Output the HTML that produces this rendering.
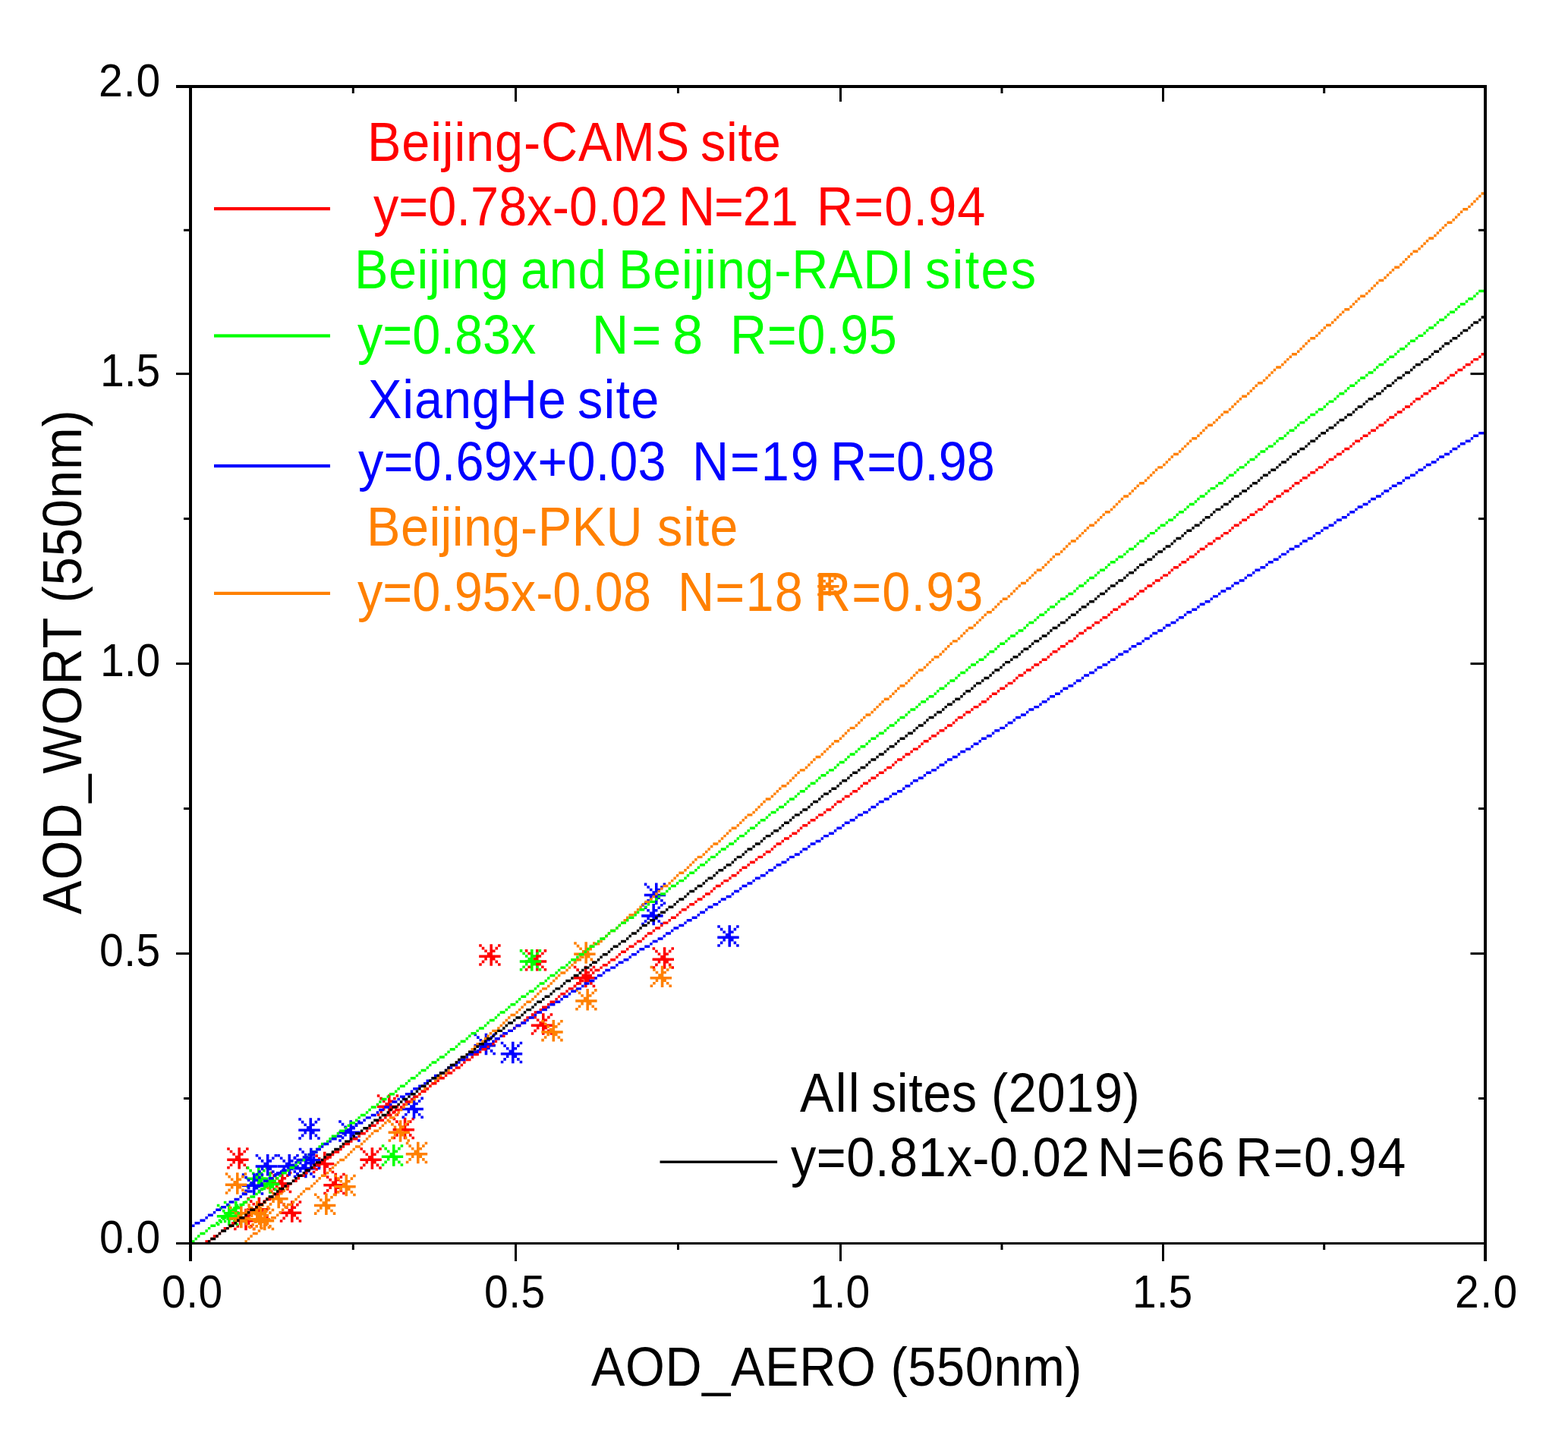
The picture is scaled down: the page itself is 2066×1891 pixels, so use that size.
<!DOCTYPE html><html><head><meta charset="utf-8"><title>AOD scatter</title>
<style>html,body{margin:0;padding:0;background:#fff;overflow:hidden}svg{display:block}text{font-family:"Liberation Sans", Arial, Helvetica, sans-serif;}</style></head><body>
<svg width="2066" height="1891" viewBox="0 0 2066 1891">
<rect width="2066" height="1891" fill="#fff"/>
<defs><clipPath id="pa"><rect x="251" y="114" width="1706" height="1524.5"/></clipPath></defs>
<defs><path id="ast" d="M14.20 0h3.55v28.40h-3.55zM0 14.20h28.40v3.55h-28.40zM0.00 0.00h3.55v3.55h-3.55zM24.85 0.00h3.55v3.55h-3.55zM3.55 3.55h3.55v3.55h-3.55zM21.30 3.55h3.55v3.55h-3.55zM7.10 7.10h3.55v3.55h-3.55zM17.75 7.10h3.55v3.55h-3.55zM10.65 10.65h3.55v3.55h-3.55zM17.75 17.75h3.55v3.55h-3.55zM7.10 17.75h3.55v3.55h-3.55zM21.30 21.30h3.55v3.55h-3.55zM3.55 21.30h3.55v3.55h-3.55zM24.85 24.85h3.55v3.55h-3.55zM0.00 24.85h3.55v3.55h-3.55z"/></defs>
<g>
<use href="#ast" x="631.2" y="1244.3" fill="#ff0000"/>
<use href="#ast" x="691.8" y="1251.1" fill="#ff0000"/>
<use href="#ast" x="755.8" y="1272.8" fill="#ff0000"/>
<use href="#ast" x="859.6" y="1248.3" fill="#ff0000"/>
<use href="#ast" x="699.8" y="1335.3" fill="#ff0000"/>
<use href="#ast" x="496.8" y="1442.3" fill="#ff0000"/>
<use href="#ast" x="517.6" y="1472.8" fill="#ff0000"/>
<use href="#ast" x="474.4" y="1512.3" fill="#ff0000"/>
<use href="#ast" x="426.3" y="1545.8" fill="#ff0000"/>
<use href="#ast" x="411.8" y="1517.8" fill="#ff0000"/>
<use href="#ast" x="299.2" y="1512.2" fill="#ff0000"/>
<use href="#ast" x="368.8" y="1582.3" fill="#ff0000"/>
<use href="#ast" x="355.8" y="1543.8" fill="#ff0000"/>
<use href="#ast" x="308.0" y="1592.8" fill="#ff0000"/>
<use href="#ast" x="325.4" y="1577.8" fill="#ff0000"/>
<use href="#ast" x="684.8" y="1251.1" fill="#00ff00"/>
<use href="#ast" x="502.8" y="1508.3" fill="#00ff00"/>
<use href="#ast" x="324.8" y="1537.3" fill="#00ff00"/>
<use href="#ast" x="339.8" y="1544.4" fill="#00ff00"/>
<use href="#ast" x="294.8" y="1582.8" fill="#00ff00"/>
<use href="#ast" x="285.8" y="1586.8" fill="#00ff00"/>
<use href="#ast" x="848.8" y="1163.6" fill="#0000ff"/>
<use href="#ast" x="845.2" y="1190.9" fill="#0000ff"/>
<use href="#ast" x="945.3" y="1219.3" fill="#0000ff"/>
<use href="#ast" x="659.8" y="1372.8" fill="#0000ff"/>
<use href="#ast" x="624.5" y="1361.8" fill="#0000ff"/>
<use href="#ast" x="529.5" y="1445.6" fill="#0000ff"/>
<use href="#ast" x="446.2" y="1476.3" fill="#0000ff"/>
<use href="#ast" x="393.3" y="1473.3" fill="#0000ff"/>
<use href="#ast" x="393.8" y="1512.8" fill="#0000ff"/>
<use href="#ast" x="336.7" y="1521.0" fill="#0000ff"/>
<use href="#ast" x="365.3" y="1521.0" fill="#0000ff"/>
<use href="#ast" x="318.8" y="1546.3" fill="#0000ff"/>
<use href="#ast" x="386.8" y="1523.8" fill="#0000ff"/>
<use href="#ast" x="756.2" y="1241.3" fill="#ff8000"/>
<use href="#ast" x="758.2" y="1303.1" fill="#ff8000"/>
<use href="#ast" x="856.6" y="1272.7" fill="#ff8000"/>
<use href="#ast" x="713.3" y="1344.0" fill="#ff8000"/>
<use href="#ast" x="511.6" y="1476.3" fill="#ff8000"/>
<use href="#ast" x="534.8" y="1504.8" fill="#ff8000"/>
<use href="#ast" x="440.3" y="1547.8" fill="#ff8000"/>
<use href="#ast" x="413.9" y="1572.5" fill="#ff8000"/>
<use href="#ast" x="296.8" y="1545.3" fill="#ff8000"/>
<use href="#ast" x="351.2" y="1563.8" fill="#ff8000"/>
<use href="#ast" x="327.8" y="1590.8" fill="#ff8000"/>
<use href="#ast" x="301.8" y="1589.8" fill="#ff8000"/>
<use href="#ast" x="1077.2" y="756.8" fill="#ff8000"/>
<use href="#ast" x="322.8" y="1582.8" fill="#ff8000"/>
<use href="#ast" x="332.8" y="1592.8" fill="#ff8000"/>
</g>
<g clip-path="url(#pa)">
<path d="M318.91 1637.70h3.47v3.47h-3.47zM322.38 1634.23h3.47v3.47h-3.47zM325.84 1630.76h3.47v3.47h-3.47zM329.31 1627.29h3.47v3.47h-3.47zM332.77 1623.82h6.93v3.47h-6.93zM339.71 1620.35h3.47v3.47h-3.47zM343.17 1616.88h3.47v3.47h-3.47zM346.64 1613.41h3.47v3.47h-3.47zM350.11 1609.94h3.47v3.47h-3.47zM353.57 1606.47h3.47v3.47h-3.47zM357.04 1603.00h6.93v3.47h-6.93zM363.97 1599.53h3.47v3.47h-3.47zM367.44 1596.06h3.47v3.47h-3.47zM370.90 1592.59h3.47v3.47h-3.47zM374.37 1589.12h3.47v3.47h-3.47zM377.84 1585.65h6.93v3.47h-6.93zM384.77 1582.18h3.47v3.47h-3.47zM388.24 1578.71h3.47v3.47h-3.47zM391.70 1575.24h3.47v3.47h-3.47zM395.17 1571.77h3.47v3.47h-3.47zM398.64 1568.30h3.47v3.47h-3.47zM402.10 1564.83h6.93v3.47h-6.93zM409.04 1561.37h3.47v3.47h-3.47zM412.50 1557.90h3.47v3.47h-3.47zM415.97 1554.43h3.47v3.47h-3.47zM419.43 1550.96h3.47v3.47h-3.47zM422.90 1547.49h6.93v3.47h-6.93zM429.83 1544.02h3.47v3.47h-3.47zM433.30 1540.55h3.47v3.47h-3.47zM436.77 1537.08h3.47v3.47h-3.47zM440.23 1533.61h3.47v3.47h-3.47zM443.70 1530.14h3.47v3.47h-3.47zM447.17 1526.67h6.93v3.47h-6.93zM454.10 1523.20h3.47v3.47h-3.47zM457.56 1519.73h3.47v3.47h-3.47zM461.03 1516.26h3.47v3.47h-3.47zM464.50 1512.79h3.47v3.47h-3.47zM467.96 1509.32h6.93v3.47h-6.93zM474.90 1505.85h3.47v3.47h-3.47zM478.36 1502.38h3.47v3.47h-3.47zM481.83 1498.91h3.47v3.47h-3.47zM485.30 1495.44h3.47v3.47h-3.47zM488.76 1491.97h3.47v3.47h-3.47zM492.23 1488.50h6.93v3.47h-6.93zM499.16 1485.03h3.47v3.47h-3.47zM502.63 1481.56h3.47v3.47h-3.47zM506.09 1478.09h3.47v3.47h-3.47zM509.56 1474.62h3.47v3.47h-3.47zM513.03 1471.15h6.93v3.47h-6.93zM519.96 1467.68h3.47v3.47h-3.47zM523.43 1464.21h3.47v3.47h-3.47zM526.89 1460.74h3.47v3.47h-3.47zM530.36 1457.27h3.47v3.47h-3.47zM533.83 1453.80h3.47v3.47h-3.47zM537.29 1450.33h6.93v3.47h-6.93zM544.22 1446.86h3.47v3.47h-3.47zM547.69 1443.40h3.47v3.47h-3.47zM551.16 1439.93h3.47v3.47h-3.47zM554.62 1436.46h3.47v3.47h-3.47zM558.09 1432.99h6.93v3.47h-6.93zM565.02 1429.52h3.47v3.47h-3.47zM568.49 1426.05h3.47v3.47h-3.47zM571.96 1422.58h3.47v3.47h-3.47zM575.42 1419.11h3.47v3.47h-3.47zM578.89 1415.64h3.47v3.47h-3.47zM582.36 1412.17h6.93v3.47h-6.93zM589.29 1408.70h3.47v3.47h-3.47zM592.75 1405.23h3.47v3.47h-3.47zM596.22 1401.76h3.47v3.47h-3.47zM599.69 1398.29h3.47v3.47h-3.47zM603.15 1394.82h6.93v3.47h-6.93zM610.09 1391.35h3.47v3.47h-3.47zM613.55 1387.88h3.47v3.47h-3.47zM617.02 1384.41h3.47v3.47h-3.47zM620.49 1380.94h3.47v3.47h-3.47zM623.95 1377.47h3.47v3.47h-3.47zM627.42 1374.00h6.93v3.47h-6.93zM634.35 1370.53h3.47v3.47h-3.47zM637.82 1367.06h3.47v3.47h-3.47zM641.28 1363.59h3.47v3.47h-3.47zM644.75 1360.12h3.47v3.47h-3.47zM648.22 1356.65h6.93v3.47h-6.93zM655.15 1353.18h3.47v3.47h-3.47zM658.62 1349.71h3.47v3.47h-3.47zM662.08 1346.24h3.47v3.47h-3.47zM665.55 1342.77h3.47v3.47h-3.47zM669.02 1339.30h3.47v3.47h-3.47zM672.48 1335.83h6.93v3.47h-6.93zM679.41 1332.36h3.47v3.47h-3.47zM682.88 1328.90h3.47v3.47h-3.47zM686.35 1325.43h3.47v3.47h-3.47zM689.81 1321.96h3.47v3.47h-3.47zM693.28 1318.49h6.93v3.47h-6.93zM700.21 1315.02h3.47v3.47h-3.47zM703.68 1311.55h3.47v3.47h-3.47zM707.15 1308.08h3.47v3.47h-3.47zM710.61 1304.61h3.47v3.47h-3.47zM714.08 1301.14h6.93v3.47h-6.93zM721.01 1297.67h3.47v3.47h-3.47zM724.48 1294.20h3.47v3.47h-3.47zM727.94 1290.73h3.47v3.47h-3.47zM731.41 1287.26h3.47v3.47h-3.47zM734.88 1283.79h3.47v3.47h-3.47zM738.34 1280.32h6.93v3.47h-6.93zM745.28 1276.85h3.47v3.47h-3.47zM748.74 1273.38h3.47v3.47h-3.47zM752.21 1269.91h3.47v3.47h-3.47zM755.68 1266.44h3.47v3.47h-3.47zM759.14 1262.97h6.93v3.47h-6.93zM766.07 1259.50h3.47v3.47h-3.47zM769.54 1256.03h3.47v3.47h-3.47zM773.01 1252.56h3.47v3.47h-3.47zM776.47 1249.09h3.47v3.47h-3.47zM779.94 1245.62h3.47v3.47h-3.47zM783.41 1242.15h6.93v3.47h-6.93zM790.34 1238.68h3.47v3.47h-3.47zM793.81 1235.21h3.47v3.47h-3.47zM797.27 1231.74h3.47v3.47h-3.47zM800.74 1228.27h3.47v3.47h-3.47zM804.20 1224.80h6.93v3.47h-6.93zM811.14 1221.33h3.47v3.47h-3.47zM814.60 1217.86h3.47v3.47h-3.47zM818.07 1214.39h3.47v3.47h-3.47zM821.54 1210.93h3.47v3.47h-3.47zM825.00 1207.46h3.47v3.47h-3.47zM828.47 1203.99h6.93v3.47h-6.93zM835.40 1200.52h3.47v3.47h-3.47zM838.87 1197.05h3.47v3.47h-3.47zM842.34 1193.58h3.47v3.47h-3.47zM845.80 1190.11h3.47v3.47h-3.47zM849.27 1186.64h6.93v3.47h-6.93zM856.20 1183.17h3.47v3.47h-3.47zM859.67 1179.70h3.47v3.47h-3.47zM863.13 1176.23h3.47v3.47h-3.47zM866.60 1172.76h3.47v3.47h-3.47zM870.07 1169.29h3.47v3.47h-3.47zM873.53 1165.82h6.93v3.47h-6.93zM880.47 1162.35h3.47v3.47h-3.47zM883.93 1158.88h3.47v3.47h-3.47zM887.40 1155.41h3.47v3.47h-3.47zM890.86 1151.94h3.47v3.47h-3.47zM894.33 1148.47h6.93v3.47h-6.93zM901.26 1145.00h3.47v3.47h-3.47zM904.73 1141.53h3.47v3.47h-3.47zM908.20 1138.06h3.47v3.47h-3.47zM911.66 1134.59h3.47v3.47h-3.47zM915.13 1131.12h3.47v3.47h-3.47zM918.60 1127.65h6.93v3.47h-6.93zM925.53 1124.18h3.47v3.47h-3.47zM929.00 1120.71h3.47v3.47h-3.47zM932.46 1117.24h3.47v3.47h-3.47zM935.93 1113.77h3.47v3.47h-3.47zM939.39 1110.30h6.93v3.47h-6.93zM946.33 1106.83h3.47v3.47h-3.47zM949.79 1103.36h3.47v3.47h-3.47zM953.26 1099.89h3.47v3.47h-3.47zM956.73 1096.43h3.47v3.47h-3.47zM960.19 1092.96h3.47v3.47h-3.47zM963.66 1089.49h6.93v3.47h-6.93zM970.59 1086.02h3.47v3.47h-3.47zM974.06 1082.55h3.47v3.47h-3.47zM977.52 1079.08h3.47v3.47h-3.47zM980.99 1075.61h3.47v3.47h-3.47zM984.46 1072.14h6.93v3.47h-6.93zM991.39 1068.67h3.47v3.47h-3.47zM994.86 1065.20h3.47v3.47h-3.47zM998.32 1061.73h3.47v3.47h-3.47zM1001.79 1058.26h3.47v3.47h-3.47zM1005.26 1054.79h3.47v3.47h-3.47zM1008.72 1051.32h6.93v3.47h-6.93zM1015.66 1047.85h3.47v3.47h-3.47zM1019.12 1044.38h3.47v3.47h-3.47zM1022.59 1040.91h3.47v3.47h-3.47zM1026.05 1037.44h3.47v3.47h-3.47zM1029.52 1033.97h6.93v3.47h-6.93zM1036.45 1030.50h3.47v3.47h-3.47zM1039.92 1027.03h3.47v3.47h-3.47zM1043.39 1023.56h3.47v3.47h-3.47zM1046.85 1020.09h3.47v3.47h-3.47zM1050.32 1016.62h3.47v3.47h-3.47zM1053.79 1013.15h6.93v3.47h-6.93zM1060.72 1009.68h3.47v3.47h-3.47zM1064.18 1006.21h3.47v3.47h-3.47zM1067.65 1002.74h3.47v3.47h-3.47zM1071.12 999.27h3.47v3.47h-3.47zM1074.58 995.80h6.93v3.47h-6.93zM1081.52 992.33h3.47v3.47h-3.47zM1084.98 988.86h3.47v3.47h-3.47zM1088.45 985.39h3.47v3.47h-3.47zM1091.92 981.93h3.47v3.47h-3.47zM1095.38 978.46h3.47v3.47h-3.47zM1098.85 974.99h6.93v3.47h-6.93zM1105.78 971.52h3.47v3.47h-3.47zM1109.25 968.05h3.47v3.47h-3.47zM1112.71 964.58h3.47v3.47h-3.47zM1116.18 961.11h3.47v3.47h-3.47zM1119.65 957.64h6.93v3.47h-6.93zM1126.58 954.17h3.47v3.47h-3.47zM1130.05 950.70h3.47v3.47h-3.47zM1133.51 947.23h3.47v3.47h-3.47zM1136.98 943.76h3.47v3.47h-3.47zM1140.45 940.29h6.93v3.47h-6.93zM1147.38 936.82h3.47v3.47h-3.47zM1150.84 933.35h3.47v3.47h-3.47zM1154.31 929.88h3.47v3.47h-3.47zM1157.78 926.41h3.47v3.47h-3.47zM1161.24 922.94h3.47v3.47h-3.47zM1164.71 919.47h6.93v3.47h-6.93zM1171.64 916.00h3.47v3.47h-3.47zM1175.11 912.53h3.47v3.47h-3.47zM1178.58 909.06h3.47v3.47h-3.47zM1182.04 905.59h3.47v3.47h-3.47zM1185.51 902.12h6.93v3.47h-6.93zM1192.44 898.65h3.47v3.47h-3.47zM1195.91 895.18h3.47v3.47h-3.47zM1199.37 891.71h3.47v3.47h-3.47zM1202.84 888.24h3.47v3.47h-3.47zM1206.31 884.77h3.47v3.47h-3.47zM1209.77 881.30h6.93v3.47h-6.93zM1216.71 877.83h3.47v3.47h-3.47zM1220.17 874.36h3.47v3.47h-3.47zM1223.64 870.89h3.47v3.47h-3.47zM1227.11 867.42h3.47v3.47h-3.47zM1230.57 863.96h6.93v3.47h-6.93zM1237.50 860.49h3.47v3.47h-3.47zM1240.97 857.02h3.47v3.47h-3.47zM1244.44 853.55h3.47v3.47h-3.47zM1247.90 850.08h3.47v3.47h-3.47zM1251.37 846.61h3.47v3.47h-3.47zM1254.84 843.14h6.93v3.47h-6.93zM1261.77 839.67h3.47v3.47h-3.47zM1265.24 836.20h3.47v3.47h-3.47zM1268.70 832.73h3.47v3.47h-3.47zM1272.17 829.26h3.47v3.47h-3.47zM1275.64 825.79h6.93v3.47h-6.93zM1282.57 822.32h3.47v3.47h-3.47zM1286.03 818.85h3.47v3.47h-3.47zM1289.50 815.38h3.47v3.47h-3.47zM1292.97 811.91h3.47v3.47h-3.47zM1296.43 808.44h3.47v3.47h-3.47zM1299.90 804.97h6.93v3.47h-6.93zM1306.83 801.50h3.47v3.47h-3.47zM1310.30 798.03h3.47v3.47h-3.47zM1313.77 794.56h3.47v3.47h-3.47zM1317.23 791.09h3.47v3.47h-3.47zM1320.70 787.62h6.93v3.47h-6.93zM1327.63 784.15h3.47v3.47h-3.47zM1331.10 780.68h3.47v3.47h-3.47zM1334.56 777.21h3.47v3.47h-3.47zM1338.03 773.74h3.47v3.47h-3.47zM1341.50 770.27h3.47v3.47h-3.47zM1344.96 766.80h6.93v3.47h-6.93zM1351.90 763.33h3.47v3.47h-3.47zM1355.36 759.86h3.47v3.47h-3.47zM1358.83 756.39h3.47v3.47h-3.47zM1362.30 752.92h3.47v3.47h-3.47zM1365.76 749.46h6.93v3.47h-6.93zM1372.69 745.99h3.47v3.47h-3.47zM1376.16 742.52h3.47v3.47h-3.47zM1379.63 739.05h3.47v3.47h-3.47zM1383.09 735.58h3.47v3.47h-3.47zM1386.56 732.11h3.47v3.47h-3.47zM1390.03 728.64h6.93v3.47h-6.93zM1396.96 725.17h3.47v3.47h-3.47zM1400.43 721.70h3.47v3.47h-3.47zM1403.89 718.23h3.47v3.47h-3.47zM1407.36 714.76h3.47v3.47h-3.47zM1410.82 711.29h6.93v3.47h-6.93zM1417.76 707.82h3.47v3.47h-3.47zM1421.22 704.35h3.47v3.47h-3.47zM1424.69 700.88h3.47v3.47h-3.47zM1428.16 697.41h3.47v3.47h-3.47zM1431.62 693.94h3.47v3.47h-3.47zM1435.09 690.47h6.93v3.47h-6.93zM1442.02 687.00h3.47v3.47h-3.47zM1445.49 683.53h3.47v3.47h-3.47zM1448.96 680.06h3.47v3.47h-3.47zM1452.42 676.59h3.47v3.47h-3.47zM1455.89 673.12h6.93v3.47h-6.93zM1462.82 669.65h3.47v3.47h-3.47zM1466.29 666.18h3.47v3.47h-3.47zM1469.75 662.71h3.47v3.47h-3.47zM1473.22 659.24h3.47v3.47h-3.47zM1476.69 655.77h3.47v3.47h-3.47zM1480.15 652.30h6.93v3.47h-6.93zM1487.09 648.83h3.47v3.47h-3.47zM1490.55 645.36h3.47v3.47h-3.47zM1494.02 641.89h3.47v3.47h-3.47zM1497.48 638.42h3.47v3.47h-3.47zM1500.95 634.96h6.93v3.47h-6.93zM1507.88 631.49h3.47v3.47h-3.47zM1511.35 628.02h3.47v3.47h-3.47zM1514.82 624.55h3.47v3.47h-3.47zM1518.28 621.08h3.47v3.47h-3.47zM1521.75 617.61h3.47v3.47h-3.47zM1525.22 614.14h6.93v3.47h-6.93zM1532.15 610.67h3.47v3.47h-3.47zM1535.62 607.20h3.47v3.47h-3.47zM1539.08 603.73h3.47v3.47h-3.47zM1542.55 600.26h3.47v3.47h-3.47zM1546.01 596.79h6.93v3.47h-6.93zM1552.95 593.32h3.47v3.47h-3.47zM1556.41 589.85h3.47v3.47h-3.47zM1559.88 586.38h3.47v3.47h-3.47zM1563.35 582.91h3.47v3.47h-3.47zM1566.81 579.44h3.47v3.47h-3.47zM1570.28 575.97h6.93v3.47h-6.93zM1577.21 572.50h3.47v3.47h-3.47zM1580.68 569.03h3.47v3.47h-3.47zM1584.14 565.56h3.47v3.47h-3.47zM1587.61 562.09h3.47v3.47h-3.47zM1591.08 558.62h6.93v3.47h-6.93zM1598.01 555.15h3.47v3.47h-3.47zM1601.48 551.68h3.47v3.47h-3.47zM1604.94 548.21h3.47v3.47h-3.47zM1608.41 544.74h3.47v3.47h-3.47zM1611.88 541.27h6.93v3.47h-6.93zM1618.81 537.80h3.47v3.47h-3.47zM1622.28 534.33h3.47v3.47h-3.47zM1625.74 530.86h3.47v3.47h-3.47zM1629.21 527.39h3.47v3.47h-3.47zM1632.67 523.92h3.47v3.47h-3.47zM1636.14 520.46h6.93v3.47h-6.93zM1643.07 516.99h3.47v3.47h-3.47zM1646.54 513.52h3.47v3.47h-3.47zM1650.01 510.05h3.47v3.47h-3.47zM1653.47 506.58h3.47v3.47h-3.47zM1656.94 503.11h6.93v3.47h-6.93zM1663.87 499.64h3.47v3.47h-3.47zM1667.34 496.17h3.47v3.47h-3.47zM1670.80 492.70h3.47v3.47h-3.47zM1674.27 489.23h3.47v3.47h-3.47zM1677.74 485.76h3.47v3.47h-3.47zM1681.20 482.29h6.93v3.47h-6.93zM1688.14 478.82h3.47v3.47h-3.47zM1691.60 475.35h3.47v3.47h-3.47zM1695.07 471.88h3.47v3.47h-3.47zM1698.54 468.41h3.47v3.47h-3.47zM1702.00 464.94h6.93v3.47h-6.93zM1708.94 461.47h3.47v3.47h-3.47zM1712.40 458.00h3.47v3.47h-3.47zM1715.87 454.53h3.47v3.47h-3.47zM1719.33 451.06h3.47v3.47h-3.47zM1722.80 447.59h3.47v3.47h-3.47zM1726.27 444.12h6.93v3.47h-6.93zM1733.20 440.65h3.47v3.47h-3.47zM1736.67 437.18h3.47v3.47h-3.47zM1740.13 433.71h3.47v3.47h-3.47zM1743.60 430.24h3.47v3.47h-3.47zM1747.07 426.77h6.93v3.47h-6.93zM1754.00 423.30h3.47v3.47h-3.47zM1757.46 419.83h3.47v3.47h-3.47zM1760.93 416.36h3.47v3.47h-3.47zM1764.40 412.89h3.47v3.47h-3.47zM1767.86 409.42h3.47v3.47h-3.47zM1771.33 405.95h6.93v3.47h-6.93zM1778.26 402.49h3.47v3.47h-3.47zM1781.73 399.02h3.47v3.47h-3.47zM1785.20 395.55h3.47v3.47h-3.47zM1788.66 392.08h3.47v3.47h-3.47zM1792.13 388.61h6.93v3.47h-6.93zM1799.06 385.14h3.47v3.47h-3.47zM1802.53 381.67h3.47v3.47h-3.47zM1805.99 378.20h3.47v3.47h-3.47zM1809.46 374.73h3.47v3.47h-3.47zM1812.93 371.26h3.47v3.47h-3.47zM1816.39 367.79h6.93v3.47h-6.93zM1823.33 364.32h3.47v3.47h-3.47zM1826.79 360.85h3.47v3.47h-3.47zM1830.26 357.38h3.47v3.47h-3.47zM1833.73 353.91h3.47v3.47h-3.47zM1837.19 350.44h6.93v3.47h-6.93zM1844.12 346.97h3.47v3.47h-3.47zM1847.59 343.50h3.47v3.47h-3.47zM1851.06 340.03h3.47v3.47h-3.47zM1854.52 336.56h3.47v3.47h-3.47zM1857.99 333.09h3.47v3.47h-3.47zM1861.46 329.62h6.93v3.47h-6.93zM1868.39 326.15h3.47v3.47h-3.47zM1871.86 322.68h3.47v3.47h-3.47zM1875.32 319.21h3.47v3.47h-3.47zM1878.79 315.74h3.47v3.47h-3.47zM1882.26 312.27h6.93v3.47h-6.93zM1889.19 308.80h3.47v3.47h-3.47zM1892.65 305.33h3.47v3.47h-3.47zM1896.12 301.86h3.47v3.47h-3.47zM1899.59 298.39h3.47v3.47h-3.47zM1903.05 294.92h3.47v3.47h-3.47zM1906.52 291.45h6.93v3.47h-6.93zM1913.45 287.99h3.47v3.47h-3.47zM1916.92 284.52h3.47v3.47h-3.47zM1920.39 281.05h3.47v3.47h-3.47zM1923.85 277.58h3.47v3.47h-3.47zM1927.32 274.11h6.93v3.47h-6.93zM1934.25 270.64h3.47v3.47h-3.47zM1937.72 267.17h3.47v3.47h-3.47zM1941.18 263.70h3.47v3.47h-3.47zM1944.65 260.23h3.47v3.47h-3.47zM1948.12 256.76h3.47v3.47h-3.47zM1951.58 253.29h6.93v3.47h-6.93zM1958.52 249.82h3.47v3.47h-3.47z" fill="#ff8000"/>
<path d="M249.58 1634.23h6.93v3.47h-6.93zM256.51 1630.76h3.47v3.47h-3.47zM259.98 1627.29h3.47v3.47h-3.47zM263.45 1623.82h6.93v3.47h-6.93zM270.38 1620.35h3.47v3.47h-3.47zM273.85 1616.88h3.47v3.47h-3.47zM277.31 1613.41h6.93v3.47h-6.93zM284.24 1609.94h3.47v3.47h-3.47zM287.71 1606.47h3.47v3.47h-3.47zM291.18 1603.00h6.93v3.47h-6.93zM298.11 1599.53h3.47v3.47h-3.47zM301.58 1596.06h3.47v3.47h-3.47zM305.04 1592.59h6.93v3.47h-6.93zM311.98 1589.12h3.47v3.47h-3.47zM315.44 1585.65h6.93v3.47h-6.93zM322.38 1582.18h3.47v3.47h-3.47zM325.84 1578.71h3.47v3.47h-3.47zM329.31 1575.24h6.93v3.47h-6.93zM336.24 1571.77h3.47v3.47h-3.47zM339.71 1568.30h3.47v3.47h-3.47zM343.17 1564.83h6.93v3.47h-6.93zM350.11 1561.37h3.47v3.47h-3.47zM353.57 1557.90h3.47v3.47h-3.47zM357.04 1554.43h6.93v3.47h-6.93zM363.97 1550.96h3.47v3.47h-3.47zM367.44 1547.49h3.47v3.47h-3.47zM370.90 1544.02h6.93v3.47h-6.93zM377.84 1540.55h3.47v3.47h-3.47zM381.30 1537.08h6.93v3.47h-6.93zM388.24 1533.61h3.47v3.47h-3.47zM391.70 1530.14h3.47v3.47h-3.47zM395.17 1526.67h6.93v3.47h-6.93zM402.10 1523.20h3.47v3.47h-3.47zM405.57 1519.73h3.47v3.47h-3.47zM409.04 1516.26h6.93v3.47h-6.93zM415.97 1512.79h3.47v3.47h-3.47zM419.43 1509.32h3.47v3.47h-3.47zM422.90 1505.85h6.93v3.47h-6.93zM429.83 1502.38h3.47v3.47h-3.47zM433.30 1498.91h3.47v3.47h-3.47zM436.77 1495.44h6.93v3.47h-6.93zM443.70 1491.97h3.47v3.47h-3.47zM447.17 1488.50h6.93v3.47h-6.93zM454.10 1485.03h3.47v3.47h-3.47zM457.56 1481.56h3.47v3.47h-3.47zM461.03 1478.09h6.93v3.47h-6.93zM467.96 1474.62h3.47v3.47h-3.47zM471.43 1471.15h3.47v3.47h-3.47zM474.90 1467.68h6.93v3.47h-6.93zM481.83 1464.21h3.47v3.47h-3.47zM485.30 1460.74h3.47v3.47h-3.47zM488.76 1457.27h6.93v3.47h-6.93zM495.70 1453.80h3.47v3.47h-3.47zM499.16 1450.33h3.47v3.47h-3.47zM502.63 1446.86h6.93v3.47h-6.93zM509.56 1443.40h3.47v3.47h-3.47zM513.03 1439.93h6.93v3.47h-6.93zM519.96 1436.46h3.47v3.47h-3.47zM523.43 1432.99h3.47v3.47h-3.47zM526.89 1429.52h6.93v3.47h-6.93zM533.83 1426.05h3.47v3.47h-3.47zM537.29 1422.58h3.47v3.47h-3.47zM540.76 1419.11h6.93v3.47h-6.93zM547.69 1415.64h3.47v3.47h-3.47zM551.16 1412.17h3.47v3.47h-3.47zM554.62 1408.70h6.93v3.47h-6.93zM561.56 1405.23h3.47v3.47h-3.47zM565.02 1401.76h3.47v3.47h-3.47zM568.49 1398.29h6.93v3.47h-6.93zM575.42 1394.82h3.47v3.47h-3.47zM578.89 1391.35h6.93v3.47h-6.93zM585.82 1387.88h3.47v3.47h-3.47zM589.29 1384.41h3.47v3.47h-3.47zM592.75 1380.94h6.93v3.47h-6.93zM599.69 1377.47h3.47v3.47h-3.47zM603.15 1374.00h3.47v3.47h-3.47zM606.62 1370.53h6.93v3.47h-6.93zM613.55 1367.06h3.47v3.47h-3.47zM617.02 1363.59h3.47v3.47h-3.47zM620.49 1360.12h6.93v3.47h-6.93zM627.42 1356.65h3.47v3.47h-3.47zM630.88 1353.18h6.93v3.47h-6.93zM637.82 1349.71h3.47v3.47h-3.47zM641.28 1346.24h3.47v3.47h-3.47zM644.75 1342.77h6.93v3.47h-6.93zM651.68 1339.30h3.47v3.47h-3.47zM655.15 1335.83h3.47v3.47h-3.47zM658.62 1332.36h6.93v3.47h-6.93zM665.55 1328.90h3.47v3.47h-3.47zM669.02 1325.43h3.47v3.47h-3.47zM672.48 1321.96h6.93v3.47h-6.93zM679.41 1318.49h3.47v3.47h-3.47zM682.88 1315.02h3.47v3.47h-3.47zM686.35 1311.55h6.93v3.47h-6.93zM693.28 1308.08h3.47v3.47h-3.47zM696.75 1304.61h6.93v3.47h-6.93zM703.68 1301.14h3.47v3.47h-3.47zM707.15 1297.67h3.47v3.47h-3.47zM710.61 1294.20h6.93v3.47h-6.93zM717.54 1290.73h3.47v3.47h-3.47zM721.01 1287.26h3.47v3.47h-3.47zM724.48 1283.79h6.93v3.47h-6.93zM731.41 1280.32h3.47v3.47h-3.47zM734.88 1276.85h3.47v3.47h-3.47zM738.34 1273.38h6.93v3.47h-6.93zM745.28 1269.91h3.47v3.47h-3.47zM748.74 1266.44h3.47v3.47h-3.47zM752.21 1262.97h6.93v3.47h-6.93zM759.14 1259.50h3.47v3.47h-3.47zM762.61 1256.03h6.93v3.47h-6.93zM769.54 1252.56h3.47v3.47h-3.47zM773.01 1249.09h3.47v3.47h-3.47zM776.47 1245.62h6.93v3.47h-6.93zM783.41 1242.15h3.47v3.47h-3.47zM786.87 1238.68h3.47v3.47h-3.47zM790.34 1235.21h6.93v3.47h-6.93zM797.27 1231.74h3.47v3.47h-3.47zM800.74 1228.27h3.47v3.47h-3.47zM804.20 1224.80h6.93v3.47h-6.93zM811.14 1221.33h3.47v3.47h-3.47zM814.60 1217.86h3.47v3.47h-3.47zM818.07 1214.39h6.93v3.47h-6.93zM825.00 1210.93h3.47v3.47h-3.47zM828.47 1207.46h6.93v3.47h-6.93zM835.40 1203.99h3.47v3.47h-3.47zM838.87 1200.52h3.47v3.47h-3.47zM842.34 1197.05h6.93v3.47h-6.93zM849.27 1193.58h3.47v3.47h-3.47zM852.73 1190.11h3.47v3.47h-3.47zM856.20 1186.64h6.93v3.47h-6.93zM863.13 1183.17h3.47v3.47h-3.47zM866.60 1179.70h3.47v3.47h-3.47zM870.07 1176.23h6.93v3.47h-6.93zM877.00 1172.76h3.47v3.47h-3.47zM880.47 1169.29h3.47v3.47h-3.47zM883.93 1165.82h6.93v3.47h-6.93zM890.86 1162.35h3.47v3.47h-3.47zM894.33 1158.88h6.93v3.47h-6.93zM901.26 1155.41h3.47v3.47h-3.47zM904.73 1151.94h3.47v3.47h-3.47zM908.20 1148.47h6.93v3.47h-6.93zM915.13 1145.00h3.47v3.47h-3.47zM918.60 1141.53h3.47v3.47h-3.47zM922.06 1138.06h6.93v3.47h-6.93zM929.00 1134.59h3.47v3.47h-3.47zM932.46 1131.12h3.47v3.47h-3.47zM935.93 1127.65h6.93v3.47h-6.93zM942.86 1124.18h3.47v3.47h-3.47zM946.33 1120.71h3.47v3.47h-3.47zM949.79 1117.24h6.93v3.47h-6.93zM956.73 1113.77h3.47v3.47h-3.47zM960.19 1110.30h6.93v3.47h-6.93zM967.13 1106.83h3.47v3.47h-3.47zM970.59 1103.36h3.47v3.47h-3.47zM974.06 1099.89h6.93v3.47h-6.93zM980.99 1096.43h3.47v3.47h-3.47zM984.46 1092.96h3.47v3.47h-3.47zM987.92 1089.49h6.93v3.47h-6.93zM994.86 1086.02h3.47v3.47h-3.47zM998.32 1082.55h3.47v3.47h-3.47zM1001.79 1079.08h6.93v3.47h-6.93zM1008.72 1075.61h3.47v3.47h-3.47zM1012.19 1072.14h3.47v3.47h-3.47zM1015.66 1068.67h6.93v3.47h-6.93zM1022.59 1065.20h3.47v3.47h-3.47zM1026.05 1061.73h6.93v3.47h-6.93zM1032.99 1058.26h3.47v3.47h-3.47zM1036.45 1054.79h3.47v3.47h-3.47zM1039.92 1051.32h6.93v3.47h-6.93zM1046.85 1047.85h3.47v3.47h-3.47zM1050.32 1044.38h3.47v3.47h-3.47zM1053.79 1040.91h6.93v3.47h-6.93zM1060.72 1037.44h3.47v3.47h-3.47zM1064.18 1033.97h3.47v3.47h-3.47zM1067.65 1030.50h6.93v3.47h-6.93zM1074.58 1027.03h3.47v3.47h-3.47zM1078.05 1023.56h3.47v3.47h-3.47zM1081.52 1020.09h6.93v3.47h-6.93zM1088.45 1016.62h3.47v3.47h-3.47zM1091.92 1013.15h6.93v3.47h-6.93zM1098.85 1009.68h3.47v3.47h-3.47zM1102.32 1006.21h3.47v3.47h-3.47zM1105.78 1002.74h6.93v3.47h-6.93zM1112.71 999.27h3.47v3.47h-3.47zM1116.18 995.80h3.47v3.47h-3.47zM1119.65 992.33h6.93v3.47h-6.93zM1126.58 988.86h3.47v3.47h-3.47zM1130.05 985.39h3.47v3.47h-3.47zM1133.51 981.93h6.93v3.47h-6.93zM1140.45 978.46h3.47v3.47h-3.47zM1143.91 974.99h3.47v3.47h-3.47zM1147.38 971.52h6.93v3.47h-6.93zM1154.31 968.05h3.47v3.47h-3.47zM1157.78 964.58h6.93v3.47h-6.93zM1164.71 961.11h3.47v3.47h-3.47zM1168.18 957.64h3.47v3.47h-3.47zM1171.64 954.17h6.93v3.47h-6.93zM1178.58 950.70h3.47v3.47h-3.47zM1182.04 947.23h3.47v3.47h-3.47zM1185.51 943.76h6.93v3.47h-6.93zM1192.44 940.29h3.47v3.47h-3.47zM1195.91 936.82h3.47v3.47h-3.47zM1199.37 933.35h6.93v3.47h-6.93zM1206.31 929.88h3.47v3.47h-3.47zM1209.77 926.41h3.47v3.47h-3.47zM1213.24 922.94h6.93v3.47h-6.93zM1220.17 919.47h3.47v3.47h-3.47zM1223.64 916.00h6.93v3.47h-6.93zM1230.57 912.53h3.47v3.47h-3.47zM1234.04 909.06h3.47v3.47h-3.47zM1237.50 905.59h6.93v3.47h-6.93zM1244.44 902.12h3.47v3.47h-3.47zM1247.90 898.65h3.47v3.47h-3.47zM1251.37 895.18h6.93v3.47h-6.93zM1258.30 891.71h3.47v3.47h-3.47zM1261.77 888.24h3.47v3.47h-3.47zM1265.24 884.77h6.93v3.47h-6.93zM1272.17 881.30h3.47v3.47h-3.47zM1275.64 877.83h3.47v3.47h-3.47zM1279.10 874.36h6.93v3.47h-6.93zM1286.03 870.89h3.47v3.47h-3.47zM1289.50 867.42h6.93v3.47h-6.93zM1296.43 863.96h3.47v3.47h-3.47zM1299.90 860.49h3.47v3.47h-3.47zM1303.37 857.02h6.93v3.47h-6.93zM1310.30 853.55h3.47v3.47h-3.47zM1313.77 850.08h3.47v3.47h-3.47zM1317.23 846.61h6.93v3.47h-6.93zM1324.16 843.14h3.47v3.47h-3.47zM1327.63 839.67h3.47v3.47h-3.47zM1331.10 836.20h6.93v3.47h-6.93zM1338.03 832.73h3.47v3.47h-3.47zM1341.50 829.26h6.93v3.47h-6.93zM1348.43 825.79h3.47v3.47h-3.47zM1351.90 822.32h3.47v3.47h-3.47zM1355.36 818.85h6.93v3.47h-6.93zM1362.30 815.38h3.47v3.47h-3.47zM1365.76 811.91h3.47v3.47h-3.47zM1369.23 808.44h6.93v3.47h-6.93zM1376.16 804.97h3.47v3.47h-3.47zM1379.63 801.50h3.47v3.47h-3.47zM1383.09 798.03h6.93v3.47h-6.93zM1390.03 794.56h3.47v3.47h-3.47zM1393.49 791.09h3.47v3.47h-3.47zM1396.96 787.62h6.93v3.47h-6.93zM1403.89 784.15h3.47v3.47h-3.47zM1407.36 780.68h6.93v3.47h-6.93zM1414.29 777.21h3.47v3.47h-3.47zM1417.76 773.74h3.47v3.47h-3.47zM1421.22 770.27h6.93v3.47h-6.93zM1428.16 766.80h3.47v3.47h-3.47zM1431.62 763.33h3.47v3.47h-3.47zM1435.09 759.86h6.93v3.47h-6.93zM1442.02 756.39h3.47v3.47h-3.47zM1445.49 752.92h3.47v3.47h-3.47zM1448.96 749.46h6.93v3.47h-6.93zM1455.89 745.99h3.47v3.47h-3.47zM1459.35 742.52h3.47v3.47h-3.47zM1462.82 739.05h6.93v3.47h-6.93zM1469.75 735.58h3.47v3.47h-3.47zM1473.22 732.11h6.93v3.47h-6.93zM1480.15 728.64h3.47v3.47h-3.47zM1483.62 725.17h3.47v3.47h-3.47zM1487.09 721.70h6.93v3.47h-6.93zM1494.02 718.23h3.47v3.47h-3.47zM1497.48 714.76h3.47v3.47h-3.47zM1500.95 711.29h6.93v3.47h-6.93zM1507.88 707.82h3.47v3.47h-3.47zM1511.35 704.35h3.47v3.47h-3.47zM1514.82 700.88h6.93v3.47h-6.93zM1521.75 697.41h3.47v3.47h-3.47zM1525.22 693.94h3.47v3.47h-3.47zM1528.68 690.47h6.93v3.47h-6.93zM1535.62 687.00h3.47v3.47h-3.47zM1539.08 683.53h6.93v3.47h-6.93zM1546.01 680.06h3.47v3.47h-3.47zM1549.48 676.59h3.47v3.47h-3.47zM1552.95 673.12h6.93v3.47h-6.93zM1559.88 669.65h3.47v3.47h-3.47zM1563.35 666.18h3.47v3.47h-3.47zM1566.81 662.71h6.93v3.47h-6.93zM1573.75 659.24h3.47v3.47h-3.47zM1577.21 655.77h3.47v3.47h-3.47zM1580.68 652.30h6.93v3.47h-6.93zM1587.61 648.83h3.47v3.47h-3.47zM1591.08 645.36h3.47v3.47h-3.47zM1594.54 641.89h6.93v3.47h-6.93zM1601.48 638.42h3.47v3.47h-3.47zM1604.94 634.96h6.93v3.47h-6.93zM1611.88 631.49h3.47v3.47h-3.47zM1615.34 628.02h3.47v3.47h-3.47zM1618.81 624.55h6.93v3.47h-6.93zM1625.74 621.08h3.47v3.47h-3.47zM1629.21 617.61h3.47v3.47h-3.47zM1632.67 614.14h6.93v3.47h-6.93zM1639.61 610.67h3.47v3.47h-3.47zM1643.07 607.20h3.47v3.47h-3.47zM1646.54 603.73h6.93v3.47h-6.93zM1653.47 600.26h3.47v3.47h-3.47zM1656.94 596.79h3.47v3.47h-3.47zM1660.41 593.32h6.93v3.47h-6.93zM1667.34 589.85h3.47v3.47h-3.47zM1670.80 586.38h6.93v3.47h-6.93zM1677.74 582.91h3.47v3.47h-3.47zM1681.20 579.44h3.47v3.47h-3.47zM1684.67 575.97h6.93v3.47h-6.93zM1691.60 572.50h3.47v3.47h-3.47zM1695.07 569.03h3.47v3.47h-3.47zM1698.54 565.56h6.93v3.47h-6.93zM1705.47 562.09h3.47v3.47h-3.47zM1708.94 558.62h3.47v3.47h-3.47zM1712.40 555.15h6.93v3.47h-6.93zM1719.33 551.68h3.47v3.47h-3.47zM1722.80 548.21h3.47v3.47h-3.47zM1726.27 544.74h6.93v3.47h-6.93zM1733.20 541.27h3.47v3.47h-3.47zM1736.67 537.80h6.93v3.47h-6.93zM1743.60 534.33h3.47v3.47h-3.47zM1747.07 530.86h3.47v3.47h-3.47zM1750.53 527.39h6.93v3.47h-6.93zM1757.46 523.92h3.47v3.47h-3.47zM1760.93 520.46h3.47v3.47h-3.47zM1764.40 516.99h6.93v3.47h-6.93zM1771.33 513.52h3.47v3.47h-3.47zM1774.80 510.05h3.47v3.47h-3.47zM1778.26 506.58h6.93v3.47h-6.93zM1785.20 503.11h3.47v3.47h-3.47zM1788.66 499.64h3.47v3.47h-3.47zM1792.13 496.17h6.93v3.47h-6.93zM1799.06 492.70h3.47v3.47h-3.47zM1802.53 489.23h6.93v3.47h-6.93zM1809.46 485.76h3.47v3.47h-3.47zM1812.93 482.29h3.47v3.47h-3.47zM1816.39 478.82h6.93v3.47h-6.93zM1823.33 475.35h3.47v3.47h-3.47zM1826.79 471.88h3.47v3.47h-3.47zM1830.26 468.41h6.93v3.47h-6.93zM1837.19 464.94h3.47v3.47h-3.47zM1840.66 461.47h3.47v3.47h-3.47zM1844.12 458.00h6.93v3.47h-6.93zM1851.06 454.53h3.47v3.47h-3.47zM1854.52 451.06h3.47v3.47h-3.47zM1857.99 447.59h6.93v3.47h-6.93zM1864.92 444.12h3.47v3.47h-3.47zM1868.39 440.65h6.93v3.47h-6.93zM1875.32 437.18h3.47v3.47h-3.47zM1878.79 433.71h3.47v3.47h-3.47zM1882.26 430.24h6.93v3.47h-6.93zM1889.19 426.77h3.47v3.47h-3.47zM1892.65 423.30h3.47v3.47h-3.47zM1896.12 419.83h6.93v3.47h-6.93zM1903.05 416.36h3.47v3.47h-3.47zM1906.52 412.89h3.47v3.47h-3.47zM1909.99 409.42h6.93v3.47h-6.93zM1916.92 405.95h3.47v3.47h-3.47zM1920.39 402.49h3.47v3.47h-3.47zM1923.85 399.02h6.93v3.47h-6.93zM1930.78 395.55h3.47v3.47h-3.47zM1934.25 392.08h6.93v3.47h-6.93zM1941.18 388.61h3.47v3.47h-3.47zM1944.65 385.14h3.47v3.47h-3.47zM1948.12 381.67h6.93v3.47h-6.93zM1955.05 378.20h3.47v3.47h-3.47zM1958.52 374.73h3.47v3.47h-3.47z" fill="#00ff00"/>
<path d="M266.91 1637.70h3.47v3.47h-3.47zM270.38 1634.23h6.93v3.47h-6.93zM277.31 1630.76h3.47v3.47h-3.47zM280.78 1627.29h6.93v3.47h-6.93zM287.71 1623.82h3.47v3.47h-3.47zM291.18 1620.35h3.47v3.47h-3.47zM294.64 1616.88h6.93v3.47h-6.93zM301.58 1613.41h3.47v3.47h-3.47zM305.04 1609.94h6.93v3.47h-6.93zM311.98 1606.47h3.47v3.47h-3.47zM315.44 1603.00h6.93v3.47h-6.93zM322.38 1599.53h3.47v3.47h-3.47zM325.84 1596.06h3.47v3.47h-3.47zM329.31 1592.59h6.93v3.47h-6.93zM336.24 1589.12h3.47v3.47h-3.47zM339.71 1585.65h6.93v3.47h-6.93zM346.64 1582.18h3.47v3.47h-3.47zM350.11 1578.71h6.93v3.47h-6.93zM357.04 1575.24h3.47v3.47h-3.47zM360.51 1571.77h6.93v3.47h-6.93zM367.44 1568.30h3.47v3.47h-3.47zM370.90 1564.83h3.47v3.47h-3.47zM374.37 1561.37h6.93v3.47h-6.93zM381.30 1557.90h3.47v3.47h-3.47zM384.77 1554.43h6.93v3.47h-6.93zM391.70 1550.96h3.47v3.47h-3.47zM395.17 1547.49h6.93v3.47h-6.93zM402.10 1544.02h3.47v3.47h-3.47zM405.57 1540.55h3.47v3.47h-3.47zM409.04 1537.08h6.93v3.47h-6.93zM415.97 1533.61h3.47v3.47h-3.47zM419.43 1530.14h6.93v3.47h-6.93zM426.37 1526.67h3.47v3.47h-3.47zM429.83 1523.20h6.93v3.47h-6.93zM436.77 1519.73h3.47v3.47h-3.47zM440.23 1516.26h6.93v3.47h-6.93zM447.17 1512.79h3.47v3.47h-3.47zM450.63 1509.32h3.47v3.47h-3.47zM454.10 1505.85h6.93v3.47h-6.93zM461.03 1502.38h3.47v3.47h-3.47zM464.50 1498.91h6.93v3.47h-6.93zM471.43 1495.44h3.47v3.47h-3.47zM474.90 1491.97h6.93v3.47h-6.93zM481.83 1488.50h3.47v3.47h-3.47zM485.30 1485.03h3.47v3.47h-3.47zM488.76 1481.56h6.93v3.47h-6.93zM495.70 1478.09h3.47v3.47h-3.47zM499.16 1474.62h6.93v3.47h-6.93zM506.09 1471.15h3.47v3.47h-3.47zM509.56 1467.68h6.93v3.47h-6.93zM516.49 1464.21h3.47v3.47h-3.47zM519.96 1460.74h6.93v3.47h-6.93zM526.89 1457.27h3.47v3.47h-3.47zM530.36 1453.80h3.47v3.47h-3.47zM533.83 1450.33h6.93v3.47h-6.93zM540.76 1446.86h3.47v3.47h-3.47zM544.22 1443.40h6.93v3.47h-6.93zM551.16 1439.93h3.47v3.47h-3.47zM554.62 1436.46h6.93v3.47h-6.93zM561.56 1432.99h3.47v3.47h-3.47zM565.02 1429.52h3.47v3.47h-3.47zM568.49 1426.05h6.93v3.47h-6.93zM575.42 1422.58h3.47v3.47h-3.47zM578.89 1419.11h6.93v3.47h-6.93zM585.82 1415.64h3.47v3.47h-3.47zM589.29 1412.17h6.93v3.47h-6.93zM596.22 1408.70h3.47v3.47h-3.47zM599.69 1405.23h6.93v3.47h-6.93zM606.62 1401.76h3.47v3.47h-3.47zM610.09 1398.29h3.47v3.47h-3.47zM613.55 1394.82h6.93v3.47h-6.93zM620.49 1391.35h3.47v3.47h-3.47zM623.95 1387.88h6.93v3.47h-6.93zM630.88 1384.41h3.47v3.47h-3.47zM634.35 1380.94h6.93v3.47h-6.93zM641.28 1377.47h3.47v3.47h-3.47zM644.75 1374.00h6.93v3.47h-6.93zM651.68 1370.53h3.47v3.47h-3.47zM655.15 1367.06h3.47v3.47h-3.47zM658.62 1363.59h6.93v3.47h-6.93zM665.55 1360.12h3.47v3.47h-3.47zM669.02 1356.65h6.93v3.47h-6.93zM675.95 1353.18h3.47v3.47h-3.47zM679.41 1349.71h6.93v3.47h-6.93zM686.35 1346.24h3.47v3.47h-3.47zM689.81 1342.77h3.47v3.47h-3.47zM693.28 1339.30h6.93v3.47h-6.93zM700.21 1335.83h3.47v3.47h-3.47zM703.68 1332.36h6.93v3.47h-6.93zM710.61 1328.90h3.47v3.47h-3.47zM714.08 1325.43h6.93v3.47h-6.93zM721.01 1321.96h3.47v3.47h-3.47zM724.48 1318.49h6.93v3.47h-6.93zM731.41 1315.02h3.47v3.47h-3.47zM734.88 1311.55h3.47v3.47h-3.47zM738.34 1308.08h6.93v3.47h-6.93zM745.28 1304.61h3.47v3.47h-3.47zM748.74 1301.14h6.93v3.47h-6.93zM755.68 1297.67h3.47v3.47h-3.47zM759.14 1294.20h6.93v3.47h-6.93zM766.07 1290.73h3.47v3.47h-3.47zM769.54 1287.26h3.47v3.47h-3.47zM773.01 1283.79h6.93v3.47h-6.93zM779.94 1280.32h3.47v3.47h-3.47zM783.41 1276.85h6.93v3.47h-6.93zM790.34 1273.38h3.47v3.47h-3.47zM793.81 1269.91h6.93v3.47h-6.93zM800.74 1266.44h3.47v3.47h-3.47zM804.20 1262.97h6.93v3.47h-6.93zM811.14 1259.50h3.47v3.47h-3.47zM814.60 1256.03h3.47v3.47h-3.47zM818.07 1252.56h6.93v3.47h-6.93zM825.00 1249.09h3.47v3.47h-3.47zM828.47 1245.62h6.93v3.47h-6.93zM835.40 1242.15h3.47v3.47h-3.47zM838.87 1238.68h6.93v3.47h-6.93zM845.80 1235.21h3.47v3.47h-3.47zM849.27 1231.74h3.47v3.47h-3.47zM852.73 1228.27h6.93v3.47h-6.93zM859.67 1224.80h3.47v3.47h-3.47zM863.13 1221.33h6.93v3.47h-6.93zM870.07 1217.86h3.47v3.47h-3.47zM873.53 1214.39h6.93v3.47h-6.93zM880.47 1210.93h3.47v3.47h-3.47zM883.93 1207.46h6.93v3.47h-6.93zM890.86 1203.99h3.47v3.47h-3.47zM894.33 1200.52h3.47v3.47h-3.47zM897.80 1197.05h6.93v3.47h-6.93zM904.73 1193.58h3.47v3.47h-3.47zM908.20 1190.11h6.93v3.47h-6.93zM915.13 1186.64h3.47v3.47h-3.47zM918.60 1183.17h6.93v3.47h-6.93zM925.53 1179.70h3.47v3.47h-3.47zM929.00 1176.23h6.93v3.47h-6.93zM935.93 1172.76h3.47v3.47h-3.47zM939.39 1169.29h3.47v3.47h-3.47zM942.86 1165.82h6.93v3.47h-6.93zM949.79 1162.35h3.47v3.47h-3.47zM953.26 1158.88h6.93v3.47h-6.93zM960.19 1155.41h3.47v3.47h-3.47zM963.66 1151.94h6.93v3.47h-6.93zM970.59 1148.47h3.47v3.47h-3.47zM974.06 1145.00h3.47v3.47h-3.47zM977.52 1141.53h6.93v3.47h-6.93zM984.46 1138.06h3.47v3.47h-3.47zM987.92 1134.59h6.93v3.47h-6.93zM994.86 1131.12h3.47v3.47h-3.47zM998.32 1127.65h6.93v3.47h-6.93zM1005.26 1124.18h3.47v3.47h-3.47zM1008.72 1120.71h6.93v3.47h-6.93zM1015.66 1117.24h3.47v3.47h-3.47zM1019.12 1113.77h3.47v3.47h-3.47zM1022.59 1110.30h6.93v3.47h-6.93zM1029.52 1106.83h3.47v3.47h-3.47zM1032.99 1103.36h6.93v3.47h-6.93zM1039.92 1099.89h3.47v3.47h-3.47zM1043.39 1096.43h6.93v3.47h-6.93zM1050.32 1092.96h3.47v3.47h-3.47zM1053.79 1089.49h3.47v3.47h-3.47zM1057.25 1086.02h6.93v3.47h-6.93zM1064.18 1082.55h3.47v3.47h-3.47zM1067.65 1079.08h6.93v3.47h-6.93zM1074.58 1075.61h3.47v3.47h-3.47zM1078.05 1072.14h6.93v3.47h-6.93zM1084.98 1068.67h3.47v3.47h-3.47zM1088.45 1065.20h6.93v3.47h-6.93zM1095.38 1061.73h3.47v3.47h-3.47zM1098.85 1058.26h3.47v3.47h-3.47zM1102.32 1054.79h6.93v3.47h-6.93zM1109.25 1051.32h3.47v3.47h-3.47zM1112.71 1047.85h6.93v3.47h-6.93zM1119.65 1044.38h3.47v3.47h-3.47zM1123.11 1040.91h6.93v3.47h-6.93zM1130.05 1037.44h3.47v3.47h-3.47zM1133.51 1033.97h3.47v3.47h-3.47zM1136.98 1030.50h6.93v3.47h-6.93zM1143.91 1027.03h3.47v3.47h-3.47zM1147.38 1023.56h6.93v3.47h-6.93zM1154.31 1020.09h3.47v3.47h-3.47zM1157.78 1016.62h6.93v3.47h-6.93zM1164.71 1013.15h3.47v3.47h-3.47zM1168.18 1009.68h6.93v3.47h-6.93zM1175.11 1006.21h3.47v3.47h-3.47zM1178.58 1002.74h3.47v3.47h-3.47zM1182.04 999.27h6.93v3.47h-6.93zM1188.98 995.80h3.47v3.47h-3.47zM1192.44 992.33h6.93v3.47h-6.93zM1199.37 988.86h3.47v3.47h-3.47zM1202.84 985.39h6.93v3.47h-6.93zM1209.77 981.93h3.47v3.47h-3.47zM1213.24 978.46h3.47v3.47h-3.47zM1216.71 974.99h6.93v3.47h-6.93zM1223.64 971.52h3.47v3.47h-3.47zM1227.11 968.05h6.93v3.47h-6.93zM1234.04 964.58h3.47v3.47h-3.47zM1237.50 961.11h6.93v3.47h-6.93zM1244.44 957.64h3.47v3.47h-3.47zM1247.90 954.17h6.93v3.47h-6.93zM1254.84 950.70h3.47v3.47h-3.47zM1258.30 947.23h3.47v3.47h-3.47zM1261.77 943.76h6.93v3.47h-6.93zM1268.70 940.29h3.47v3.47h-3.47zM1272.17 936.82h6.93v3.47h-6.93zM1279.10 933.35h3.47v3.47h-3.47zM1282.57 929.88h6.93v3.47h-6.93zM1289.50 926.41h3.47v3.47h-3.47zM1292.97 922.94h6.93v3.47h-6.93zM1299.90 919.47h3.47v3.47h-3.47zM1303.37 916.00h3.47v3.47h-3.47zM1306.83 912.53h6.93v3.47h-6.93zM1313.77 909.06h3.47v3.47h-3.47zM1317.23 905.59h6.93v3.47h-6.93zM1324.16 902.12h3.47v3.47h-3.47zM1327.63 898.65h6.93v3.47h-6.93zM1334.56 895.18h3.47v3.47h-3.47zM1338.03 891.71h3.47v3.47h-3.47zM1341.50 888.24h6.93v3.47h-6.93zM1348.43 884.77h3.47v3.47h-3.47zM1351.90 881.30h6.93v3.47h-6.93zM1358.83 877.83h3.47v3.47h-3.47zM1362.30 874.36h6.93v3.47h-6.93zM1369.23 870.89h3.47v3.47h-3.47zM1372.69 867.42h6.93v3.47h-6.93zM1379.63 863.96h3.47v3.47h-3.47zM1383.09 860.49h3.47v3.47h-3.47zM1386.56 857.02h6.93v3.47h-6.93zM1393.49 853.55h3.47v3.47h-3.47zM1396.96 850.08h6.93v3.47h-6.93zM1403.89 846.61h3.47v3.47h-3.47zM1407.36 843.14h6.93v3.47h-6.93zM1414.29 839.67h3.47v3.47h-3.47zM1417.76 836.20h3.47v3.47h-3.47zM1421.22 832.73h6.93v3.47h-6.93zM1428.16 829.26h3.47v3.47h-3.47zM1431.62 825.79h6.93v3.47h-6.93zM1438.56 822.32h3.47v3.47h-3.47zM1442.02 818.85h6.93v3.47h-6.93zM1448.96 815.38h3.47v3.47h-3.47zM1452.42 811.91h6.93v3.47h-6.93zM1459.35 808.44h3.47v3.47h-3.47zM1462.82 804.97h3.47v3.47h-3.47zM1466.29 801.50h6.93v3.47h-6.93zM1473.22 798.03h3.47v3.47h-3.47zM1476.69 794.56h6.93v3.47h-6.93zM1483.62 791.09h3.47v3.47h-3.47zM1487.09 787.62h6.93v3.47h-6.93zM1494.02 784.15h3.47v3.47h-3.47zM1497.48 780.68h3.47v3.47h-3.47zM1500.95 777.21h6.93v3.47h-6.93zM1507.88 773.74h3.47v3.47h-3.47zM1511.35 770.27h6.93v3.47h-6.93zM1518.28 766.80h3.47v3.47h-3.47zM1521.75 763.33h6.93v3.47h-6.93zM1528.68 759.86h3.47v3.47h-3.47zM1532.15 756.39h6.93v3.47h-6.93zM1539.08 752.92h3.47v3.47h-3.47zM1542.55 749.46h3.47v3.47h-3.47zM1546.01 745.99h6.93v3.47h-6.93zM1552.95 742.52h3.47v3.47h-3.47zM1556.41 739.05h6.93v3.47h-6.93zM1563.35 735.58h3.47v3.47h-3.47zM1566.81 732.11h6.93v3.47h-6.93zM1573.75 728.64h3.47v3.47h-3.47zM1577.21 725.17h3.47v3.47h-3.47zM1580.68 721.70h6.93v3.47h-6.93zM1587.61 718.23h3.47v3.47h-3.47zM1591.08 714.76h6.93v3.47h-6.93zM1598.01 711.29h3.47v3.47h-3.47zM1601.48 707.82h6.93v3.47h-6.93zM1608.41 704.35h3.47v3.47h-3.47zM1611.88 700.88h6.93v3.47h-6.93zM1618.81 697.41h3.47v3.47h-3.47zM1622.28 693.94h3.47v3.47h-3.47zM1625.74 690.47h6.93v3.47h-6.93zM1632.67 687.00h3.47v3.47h-3.47zM1636.14 683.53h6.93v3.47h-6.93zM1643.07 680.06h3.47v3.47h-3.47zM1646.54 676.59h6.93v3.47h-6.93zM1653.47 673.12h3.47v3.47h-3.47zM1656.94 669.65h6.93v3.47h-6.93zM1663.87 666.18h3.47v3.47h-3.47zM1667.34 662.71h3.47v3.47h-3.47zM1670.80 659.24h6.93v3.47h-6.93zM1677.74 655.77h3.47v3.47h-3.47zM1681.20 652.30h6.93v3.47h-6.93zM1688.14 648.83h3.47v3.47h-3.47zM1691.60 645.36h6.93v3.47h-6.93zM1698.54 641.89h3.47v3.47h-3.47zM1702.00 638.42h3.47v3.47h-3.47zM1705.47 634.96h6.93v3.47h-6.93zM1712.40 631.49h3.47v3.47h-3.47zM1715.87 628.02h6.93v3.47h-6.93zM1722.80 624.55h3.47v3.47h-3.47zM1726.27 621.08h6.93v3.47h-6.93zM1733.20 617.61h3.47v3.47h-3.47zM1736.67 614.14h6.93v3.47h-6.93zM1743.60 610.67h3.47v3.47h-3.47zM1747.07 607.20h3.47v3.47h-3.47zM1750.53 603.73h6.93v3.47h-6.93zM1757.46 600.26h3.47v3.47h-3.47zM1760.93 596.79h6.93v3.47h-6.93zM1767.86 593.32h3.47v3.47h-3.47zM1771.33 589.85h6.93v3.47h-6.93zM1778.26 586.38h3.47v3.47h-3.47zM1781.73 582.91h3.47v3.47h-3.47zM1785.20 579.44h6.93v3.47h-6.93zM1792.13 575.97h3.47v3.47h-3.47zM1795.60 572.50h6.93v3.47h-6.93zM1802.53 569.03h3.47v3.47h-3.47zM1805.99 565.56h6.93v3.47h-6.93zM1812.93 562.09h3.47v3.47h-3.47zM1816.39 558.62h6.93v3.47h-6.93zM1823.33 555.15h3.47v3.47h-3.47zM1826.79 551.68h3.47v3.47h-3.47zM1830.26 548.21h6.93v3.47h-6.93zM1837.19 544.74h3.47v3.47h-3.47zM1840.66 541.27h6.93v3.47h-6.93zM1847.59 537.80h3.47v3.47h-3.47zM1851.06 534.33h6.93v3.47h-6.93zM1857.99 530.86h3.47v3.47h-3.47zM1861.46 527.39h3.47v3.47h-3.47zM1864.92 523.92h6.93v3.47h-6.93zM1871.86 520.46h3.47v3.47h-3.47zM1875.32 516.99h6.93v3.47h-6.93zM1882.26 513.52h3.47v3.47h-3.47zM1885.72 510.05h6.93v3.47h-6.93zM1892.65 506.58h3.47v3.47h-3.47zM1896.12 503.11h6.93v3.47h-6.93zM1903.05 499.64h3.47v3.47h-3.47zM1906.52 496.17h3.47v3.47h-3.47zM1909.99 492.70h6.93v3.47h-6.93zM1916.92 489.23h3.47v3.47h-3.47zM1920.39 485.76h6.93v3.47h-6.93zM1927.32 482.29h3.47v3.47h-3.47zM1930.78 478.82h6.93v3.47h-6.93zM1937.72 475.35h3.47v3.47h-3.47zM1941.18 471.88h6.93v3.47h-6.93zM1948.12 468.41h3.47v3.47h-3.47zM1951.58 464.94h3.47v3.47h-3.47zM1955.05 461.47h6.93v3.47h-6.93z" fill="#ff0000"/>
<path d="M249.58 1616.88h3.47v3.47h-3.47zM253.05 1613.41h3.47v3.47h-3.47zM256.51 1609.94h6.93v3.47h-6.93zM263.45 1606.47h6.93v3.47h-6.93zM270.38 1603.00h3.47v3.47h-3.47zM273.85 1599.53h6.93v3.47h-6.93zM280.78 1596.06h3.47v3.47h-3.47zM284.24 1592.59h6.93v3.47h-6.93zM291.18 1589.12h6.93v3.47h-6.93zM298.11 1585.65h3.47v3.47h-3.47zM301.58 1582.18h6.93v3.47h-6.93zM308.51 1578.71h6.93v3.47h-6.93zM315.44 1575.24h3.47v3.47h-3.47zM318.91 1571.77h6.93v3.47h-6.93zM325.84 1568.30h6.93v3.47h-6.93zM332.77 1564.83h3.47v3.47h-3.47zM336.24 1561.37h6.93v3.47h-6.93zM343.17 1557.90h3.47v3.47h-3.47zM346.64 1554.43h6.93v3.47h-6.93zM353.57 1550.96h6.93v3.47h-6.93zM360.51 1547.49h3.47v3.47h-3.47zM363.97 1544.02h6.93v3.47h-6.93zM370.90 1540.55h6.93v3.47h-6.93zM377.84 1537.08h3.47v3.47h-3.47zM381.30 1533.61h6.93v3.47h-6.93zM388.24 1530.14h3.47v3.47h-3.47zM391.70 1526.67h6.93v3.47h-6.93zM398.64 1523.20h6.93v3.47h-6.93zM405.57 1519.73h3.47v3.47h-3.47zM409.04 1516.26h6.93v3.47h-6.93zM415.97 1512.79h6.93v3.47h-6.93zM422.90 1509.32h3.47v3.47h-3.47zM426.37 1505.85h6.93v3.47h-6.93zM433.30 1502.38h3.47v3.47h-3.47zM436.77 1498.91h6.93v3.47h-6.93zM443.70 1495.44h6.93v3.47h-6.93zM450.63 1491.97h3.47v3.47h-3.47zM454.10 1488.50h6.93v3.47h-6.93zM461.03 1485.03h6.93v3.47h-6.93zM467.96 1481.56h3.47v3.47h-3.47zM471.43 1478.09h6.93v3.47h-6.93zM478.36 1474.62h3.47v3.47h-3.47zM481.83 1471.15h6.93v3.47h-6.93zM488.76 1467.68h6.93v3.47h-6.93zM495.70 1464.21h3.47v3.47h-3.47zM499.16 1460.74h6.93v3.47h-6.93zM506.09 1457.27h6.93v3.47h-6.93zM513.03 1453.80h3.47v3.47h-3.47zM516.49 1450.33h6.93v3.47h-6.93zM523.43 1446.86h3.47v3.47h-3.47zM526.89 1443.40h6.93v3.47h-6.93zM533.83 1439.93h6.93v3.47h-6.93zM540.76 1436.46h3.47v3.47h-3.47zM544.22 1432.99h6.93v3.47h-6.93zM551.16 1429.52h6.93v3.47h-6.93zM558.09 1426.05h3.47v3.47h-3.47zM561.56 1422.58h6.93v3.47h-6.93zM568.49 1419.11h3.47v3.47h-3.47zM571.96 1415.64h6.93v3.47h-6.93zM578.89 1412.17h6.93v3.47h-6.93zM585.82 1408.70h3.47v3.47h-3.47zM589.29 1405.23h6.93v3.47h-6.93zM596.22 1401.76h6.93v3.47h-6.93zM603.15 1398.29h3.47v3.47h-3.47zM606.62 1394.82h6.93v3.47h-6.93zM613.55 1391.35h3.47v3.47h-3.47zM617.02 1387.88h6.93v3.47h-6.93zM623.95 1384.41h6.93v3.47h-6.93zM630.88 1380.94h3.47v3.47h-3.47zM634.35 1377.47h6.93v3.47h-6.93zM641.28 1374.00h6.93v3.47h-6.93zM648.22 1370.53h3.47v3.47h-3.47zM651.68 1367.06h6.93v3.47h-6.93zM658.62 1363.59h3.47v3.47h-3.47zM662.08 1360.12h6.93v3.47h-6.93zM669.02 1356.65h6.93v3.47h-6.93zM675.95 1353.18h3.47v3.47h-3.47zM679.41 1349.71h6.93v3.47h-6.93zM686.35 1346.24h6.93v3.47h-6.93zM693.28 1342.77h3.47v3.47h-3.47zM696.75 1339.30h6.93v3.47h-6.93zM703.68 1335.83h3.47v3.47h-3.47zM707.15 1332.36h6.93v3.47h-6.93zM714.08 1328.90h6.93v3.47h-6.93zM721.01 1325.43h3.47v3.47h-3.47zM724.48 1321.96h6.93v3.47h-6.93zM731.41 1318.49h6.93v3.47h-6.93zM738.34 1315.02h3.47v3.47h-3.47zM741.81 1311.55h6.93v3.47h-6.93zM748.74 1308.08h3.47v3.47h-3.47zM752.21 1304.61h6.93v3.47h-6.93zM759.14 1301.14h6.93v3.47h-6.93zM766.07 1297.67h3.47v3.47h-3.47zM769.54 1294.20h6.93v3.47h-6.93zM776.47 1290.73h6.93v3.47h-6.93zM783.41 1287.26h3.47v3.47h-3.47zM786.87 1283.79h6.93v3.47h-6.93zM793.81 1280.32h3.47v3.47h-3.47zM797.27 1276.85h6.93v3.47h-6.93zM804.20 1273.38h6.93v3.47h-6.93zM811.14 1269.91h3.47v3.47h-3.47zM814.60 1266.44h6.93v3.47h-6.93zM821.54 1262.97h6.93v3.47h-6.93zM828.47 1259.50h3.47v3.47h-3.47zM831.94 1256.03h6.93v3.47h-6.93zM838.87 1252.56h3.47v3.47h-3.47zM842.34 1249.09h6.93v3.47h-6.93zM849.27 1245.62h6.93v3.47h-6.93zM856.20 1242.15h3.47v3.47h-3.47zM859.67 1238.68h6.93v3.47h-6.93zM866.60 1235.21h6.93v3.47h-6.93zM873.53 1231.74h3.47v3.47h-3.47zM877.00 1228.27h6.93v3.47h-6.93zM883.93 1224.80h3.47v3.47h-3.47zM887.40 1221.33h6.93v3.47h-6.93zM894.33 1217.86h6.93v3.47h-6.93zM901.26 1214.39h3.47v3.47h-3.47zM904.73 1210.93h6.93v3.47h-6.93zM911.66 1207.46h6.93v3.47h-6.93zM918.60 1203.99h3.47v3.47h-3.47zM922.06 1200.52h6.93v3.47h-6.93zM929.00 1197.05h3.47v3.47h-3.47zM932.46 1193.58h6.93v3.47h-6.93zM939.39 1190.11h6.93v3.47h-6.93zM946.33 1186.64h3.47v3.47h-3.47zM949.79 1183.17h6.93v3.47h-6.93zM956.73 1179.70h6.93v3.47h-6.93zM963.66 1176.23h3.47v3.47h-3.47zM967.13 1172.76h6.93v3.47h-6.93zM974.06 1169.29h3.47v3.47h-3.47zM977.52 1165.82h6.93v3.47h-6.93zM984.46 1162.35h6.93v3.47h-6.93zM991.39 1158.88h3.47v3.47h-3.47zM994.86 1155.41h6.93v3.47h-6.93zM1001.79 1151.94h6.93v3.47h-6.93zM1008.72 1148.47h3.47v3.47h-3.47zM1012.19 1145.00h6.93v3.47h-6.93zM1019.12 1141.53h3.47v3.47h-3.47zM1022.59 1138.06h6.93v3.47h-6.93zM1029.52 1134.59h6.93v3.47h-6.93zM1036.45 1131.12h3.47v3.47h-3.47zM1039.92 1127.65h6.93v3.47h-6.93zM1046.85 1124.18h6.93v3.47h-6.93zM1053.79 1120.71h3.47v3.47h-3.47zM1057.25 1117.24h6.93v3.47h-6.93zM1064.18 1113.77h3.47v3.47h-3.47zM1067.65 1110.30h6.93v3.47h-6.93zM1074.58 1106.83h6.93v3.47h-6.93zM1081.52 1103.36h3.47v3.47h-3.47zM1084.98 1099.89h6.93v3.47h-6.93zM1091.92 1096.43h6.93v3.47h-6.93zM1098.85 1092.96h3.47v3.47h-3.47zM1102.32 1089.49h6.93v3.47h-6.93zM1109.25 1086.02h3.47v3.47h-3.47zM1112.71 1082.55h6.93v3.47h-6.93zM1119.65 1079.08h6.93v3.47h-6.93zM1126.58 1075.61h3.47v3.47h-3.47zM1130.05 1072.14h6.93v3.47h-6.93zM1136.98 1068.67h6.93v3.47h-6.93zM1143.91 1065.20h3.47v3.47h-3.47zM1147.38 1061.73h6.93v3.47h-6.93zM1154.31 1058.26h3.47v3.47h-3.47zM1157.78 1054.79h6.93v3.47h-6.93zM1164.71 1051.32h6.93v3.47h-6.93zM1171.64 1047.85h3.47v3.47h-3.47zM1175.11 1044.38h6.93v3.47h-6.93zM1182.04 1040.91h6.93v3.47h-6.93zM1188.98 1037.44h3.47v3.47h-3.47zM1192.44 1033.97h6.93v3.47h-6.93zM1199.37 1030.50h3.47v3.47h-3.47zM1202.84 1027.03h6.93v3.47h-6.93zM1209.77 1023.56h6.93v3.47h-6.93zM1216.71 1020.09h3.47v3.47h-3.47zM1220.17 1016.62h6.93v3.47h-6.93zM1227.11 1013.15h6.93v3.47h-6.93zM1234.04 1009.68h3.47v3.47h-3.47zM1237.50 1006.21h6.93v3.47h-6.93zM1244.44 1002.74h3.47v3.47h-3.47zM1247.90 999.27h6.93v3.47h-6.93zM1254.84 995.80h6.93v3.47h-6.93zM1261.77 992.33h3.47v3.47h-3.47zM1265.24 988.86h6.93v3.47h-6.93zM1272.17 985.39h6.93v3.47h-6.93zM1279.10 981.93h3.47v3.47h-3.47zM1282.57 978.46h6.93v3.47h-6.93zM1289.50 974.99h3.47v3.47h-3.47zM1292.97 971.52h6.93v3.47h-6.93zM1299.90 968.05h6.93v3.47h-6.93zM1306.83 964.58h3.47v3.47h-3.47zM1310.30 961.11h6.93v3.47h-6.93zM1317.23 957.64h6.93v3.47h-6.93zM1324.16 954.17h3.47v3.47h-3.47zM1327.63 950.70h6.93v3.47h-6.93zM1334.56 947.23h3.47v3.47h-3.47zM1338.03 943.76h6.93v3.47h-6.93zM1344.96 940.29h6.93v3.47h-6.93zM1351.90 936.82h3.47v3.47h-3.47zM1355.36 933.35h6.93v3.47h-6.93zM1362.30 929.88h6.93v3.47h-6.93zM1369.23 926.41h3.47v3.47h-3.47zM1372.69 922.94h6.93v3.47h-6.93zM1379.63 919.47h3.47v3.47h-3.47zM1383.09 916.00h6.93v3.47h-6.93zM1390.03 912.53h6.93v3.47h-6.93zM1396.96 909.06h3.47v3.47h-3.47zM1400.43 905.59h6.93v3.47h-6.93zM1407.36 902.12h6.93v3.47h-6.93zM1414.29 898.65h3.47v3.47h-3.47zM1417.76 895.18h6.93v3.47h-6.93zM1424.69 891.71h3.47v3.47h-3.47zM1428.16 888.24h6.93v3.47h-6.93zM1435.09 884.77h6.93v3.47h-6.93zM1442.02 881.30h3.47v3.47h-3.47zM1445.49 877.83h6.93v3.47h-6.93zM1452.42 874.36h6.93v3.47h-6.93zM1459.35 870.89h3.47v3.47h-3.47zM1462.82 867.42h6.93v3.47h-6.93zM1469.75 863.96h3.47v3.47h-3.47zM1473.22 860.49h6.93v3.47h-6.93zM1480.15 857.02h6.93v3.47h-6.93zM1487.09 853.55h3.47v3.47h-3.47zM1490.55 850.08h6.93v3.47h-6.93zM1497.48 846.61h6.93v3.47h-6.93zM1504.42 843.14h3.47v3.47h-3.47zM1507.88 839.67h6.93v3.47h-6.93zM1514.82 836.20h3.47v3.47h-3.47zM1518.28 832.73h6.93v3.47h-6.93zM1525.22 829.26h6.93v3.47h-6.93zM1532.15 825.79h3.47v3.47h-3.47zM1535.62 822.32h6.93v3.47h-6.93zM1542.55 818.85h6.93v3.47h-6.93zM1549.48 815.38h3.47v3.47h-3.47zM1552.95 811.91h6.93v3.47h-6.93zM1559.88 808.44h3.47v3.47h-3.47zM1563.35 804.97h6.93v3.47h-6.93zM1570.28 801.50h6.93v3.47h-6.93zM1577.21 798.03h3.47v3.47h-3.47zM1580.68 794.56h6.93v3.47h-6.93zM1587.61 791.09h6.93v3.47h-6.93zM1594.54 787.62h3.47v3.47h-3.47zM1598.01 784.15h6.93v3.47h-6.93zM1604.94 780.68h3.47v3.47h-3.47zM1608.41 777.21h6.93v3.47h-6.93zM1615.34 773.74h6.93v3.47h-6.93zM1622.28 770.27h3.47v3.47h-3.47zM1625.74 766.80h6.93v3.47h-6.93zM1632.67 763.33h6.93v3.47h-6.93zM1639.61 759.86h3.47v3.47h-3.47zM1643.07 756.39h6.93v3.47h-6.93zM1650.01 752.92h3.47v3.47h-3.47zM1653.47 749.46h6.93v3.47h-6.93zM1660.41 745.99h6.93v3.47h-6.93zM1667.34 742.52h3.47v3.47h-3.47zM1670.80 739.05h6.93v3.47h-6.93zM1677.74 735.58h6.93v3.47h-6.93zM1684.67 732.11h3.47v3.47h-3.47zM1688.14 728.64h6.93v3.47h-6.93zM1695.07 725.17h3.47v3.47h-3.47zM1698.54 721.70h6.93v3.47h-6.93zM1705.47 718.23h6.93v3.47h-6.93zM1712.40 714.76h3.47v3.47h-3.47zM1715.87 711.29h6.93v3.47h-6.93zM1722.80 707.82h6.93v3.47h-6.93zM1729.73 704.35h3.47v3.47h-3.47zM1733.20 700.88h6.93v3.47h-6.93zM1740.13 697.41h3.47v3.47h-3.47zM1743.60 693.94h6.93v3.47h-6.93zM1750.53 690.47h6.93v3.47h-6.93zM1757.46 687.00h3.47v3.47h-3.47zM1760.93 683.53h6.93v3.47h-6.93zM1767.86 680.06h6.93v3.47h-6.93zM1774.80 676.59h3.47v3.47h-3.47zM1778.26 673.12h6.93v3.47h-6.93zM1785.20 669.65h3.47v3.47h-3.47zM1788.66 666.18h6.93v3.47h-6.93zM1795.60 662.71h6.93v3.47h-6.93zM1802.53 659.24h3.47v3.47h-3.47zM1805.99 655.77h6.93v3.47h-6.93zM1812.93 652.30h6.93v3.47h-6.93zM1819.86 648.83h3.47v3.47h-3.47zM1823.33 645.36h6.93v3.47h-6.93zM1830.26 641.89h3.47v3.47h-3.47zM1833.73 638.42h6.93v3.47h-6.93zM1840.66 634.96h6.93v3.47h-6.93zM1847.59 631.49h3.47v3.47h-3.47zM1851.06 628.02h6.93v3.47h-6.93zM1857.99 624.55h6.93v3.47h-6.93zM1864.92 621.08h3.47v3.47h-3.47zM1868.39 617.61h6.93v3.47h-6.93zM1875.32 614.14h3.47v3.47h-3.47zM1878.79 610.67h6.93v3.47h-6.93zM1885.72 607.20h6.93v3.47h-6.93zM1892.65 603.73h3.47v3.47h-3.47zM1896.12 600.26h6.93v3.47h-6.93zM1903.05 596.79h6.93v3.47h-6.93zM1909.99 593.32h3.47v3.47h-3.47zM1913.45 589.85h6.93v3.47h-6.93zM1920.39 586.38h3.47v3.47h-3.47zM1923.85 582.91h6.93v3.47h-6.93zM1930.78 579.44h6.93v3.47h-6.93zM1937.72 575.97h3.47v3.47h-3.47zM1941.18 572.50h6.93v3.47h-6.93zM1948.12 569.03h6.93v3.47h-6.93zM1955.05 565.56h3.47v3.47h-3.47zM1958.52 562.09h3.47v3.47h-3.47z" fill="#0000ff"/>
<path d="M270.38 1637.70h3.47v3.47h-3.47zM273.85 1634.23h3.47v3.47h-3.47zM277.31 1630.76h6.93v3.47h-6.93zM284.24 1627.29h3.47v3.47h-3.47zM287.71 1623.82h3.47v3.47h-3.47zM291.18 1620.35h6.93v3.47h-6.93zM298.11 1616.88h3.47v3.47h-3.47zM301.58 1613.41h6.93v3.47h-6.93zM308.51 1609.94h3.47v3.47h-3.47zM311.98 1606.47h3.47v3.47h-3.47zM315.44 1603.00h6.93v3.47h-6.93zM322.38 1599.53h3.47v3.47h-3.47zM325.84 1596.06h3.47v3.47h-3.47zM329.31 1592.59h6.93v3.47h-6.93zM336.24 1589.12h3.47v3.47h-3.47zM339.71 1585.65h6.93v3.47h-6.93zM346.64 1582.18h3.47v3.47h-3.47zM350.11 1578.71h3.47v3.47h-3.47zM353.57 1575.24h6.93v3.47h-6.93zM360.51 1571.77h3.47v3.47h-3.47zM363.97 1568.30h3.47v3.47h-3.47zM367.44 1564.83h6.93v3.47h-6.93zM374.37 1561.37h3.47v3.47h-3.47zM377.84 1557.90h6.93v3.47h-6.93zM384.77 1554.43h3.47v3.47h-3.47zM388.24 1550.96h3.47v3.47h-3.47zM391.70 1547.49h6.93v3.47h-6.93zM398.64 1544.02h3.47v3.47h-3.47zM402.10 1540.55h6.93v3.47h-6.93zM409.04 1537.08h3.47v3.47h-3.47zM412.50 1533.61h3.47v3.47h-3.47zM415.97 1530.14h6.93v3.47h-6.93zM422.90 1526.67h3.47v3.47h-3.47zM426.37 1523.20h3.47v3.47h-3.47zM429.83 1519.73h6.93v3.47h-6.93zM436.77 1516.26h3.47v3.47h-3.47zM440.23 1512.79h6.93v3.47h-6.93zM447.17 1509.32h3.47v3.47h-3.47zM450.63 1505.85h3.47v3.47h-3.47zM454.10 1502.38h6.93v3.47h-6.93zM461.03 1498.91h3.47v3.47h-3.47zM464.50 1495.44h3.47v3.47h-3.47zM467.96 1491.97h6.93v3.47h-6.93zM474.90 1488.50h3.47v3.47h-3.47zM478.36 1485.03h6.93v3.47h-6.93zM485.30 1481.56h3.47v3.47h-3.47zM488.76 1478.09h3.47v3.47h-3.47zM492.23 1474.62h6.93v3.47h-6.93zM499.16 1471.15h3.47v3.47h-3.47zM502.63 1467.68h6.93v3.47h-6.93zM509.56 1464.21h3.47v3.47h-3.47zM513.03 1460.74h3.47v3.47h-3.47zM516.49 1457.27h6.93v3.47h-6.93zM523.43 1453.80h3.47v3.47h-3.47zM526.89 1450.33h3.47v3.47h-3.47zM530.36 1446.86h6.93v3.47h-6.93zM537.29 1443.40h3.47v3.47h-3.47zM540.76 1439.93h6.93v3.47h-6.93zM547.69 1436.46h3.47v3.47h-3.47zM551.16 1432.99h3.47v3.47h-3.47zM554.62 1429.52h6.93v3.47h-6.93zM561.56 1426.05h3.47v3.47h-3.47zM565.02 1422.58h3.47v3.47h-3.47zM568.49 1419.11h6.93v3.47h-6.93zM575.42 1415.64h3.47v3.47h-3.47zM578.89 1412.17h6.93v3.47h-6.93zM585.82 1408.70h3.47v3.47h-3.47zM589.29 1405.23h3.47v3.47h-3.47zM592.75 1401.76h6.93v3.47h-6.93zM599.69 1398.29h3.47v3.47h-3.47zM603.15 1394.82h3.47v3.47h-3.47zM606.62 1391.35h6.93v3.47h-6.93zM613.55 1387.88h3.47v3.47h-3.47zM617.02 1384.41h6.93v3.47h-6.93zM623.95 1380.94h3.47v3.47h-3.47zM627.42 1377.47h3.47v3.47h-3.47zM630.88 1374.00h6.93v3.47h-6.93zM637.82 1370.53h3.47v3.47h-3.47zM641.28 1367.06h6.93v3.47h-6.93zM648.22 1363.59h3.47v3.47h-3.47zM651.68 1360.12h3.47v3.47h-3.47zM655.15 1356.65h6.93v3.47h-6.93zM662.08 1353.18h3.47v3.47h-3.47zM665.55 1349.71h3.47v3.47h-3.47zM669.02 1346.24h6.93v3.47h-6.93zM675.95 1342.77h3.47v3.47h-3.47zM679.41 1339.30h6.93v3.47h-6.93zM686.35 1335.83h3.47v3.47h-3.47zM689.81 1332.36h3.47v3.47h-3.47zM693.28 1328.90h6.93v3.47h-6.93zM700.21 1325.43h3.47v3.47h-3.47zM703.68 1321.96h3.47v3.47h-3.47zM707.15 1318.49h6.93v3.47h-6.93zM714.08 1315.02h3.47v3.47h-3.47zM717.54 1311.55h6.93v3.47h-6.93zM724.48 1308.08h3.47v3.47h-3.47zM727.94 1304.61h3.47v3.47h-3.47zM731.41 1301.14h6.93v3.47h-6.93zM738.34 1297.67h3.47v3.47h-3.47zM741.81 1294.20h3.47v3.47h-3.47zM745.28 1290.73h6.93v3.47h-6.93zM752.21 1287.26h3.47v3.47h-3.47zM755.68 1283.79h6.93v3.47h-6.93zM762.61 1280.32h3.47v3.47h-3.47zM766.07 1276.85h3.47v3.47h-3.47zM769.54 1273.38h6.93v3.47h-6.93zM776.47 1269.91h3.47v3.47h-3.47zM779.94 1266.44h6.93v3.47h-6.93zM786.87 1262.97h3.47v3.47h-3.47zM790.34 1259.50h3.47v3.47h-3.47zM793.81 1256.03h6.93v3.47h-6.93zM800.74 1252.56h3.47v3.47h-3.47zM804.20 1249.09h3.47v3.47h-3.47zM807.67 1245.62h6.93v3.47h-6.93zM814.60 1242.15h3.47v3.47h-3.47zM818.07 1238.68h6.93v3.47h-6.93zM825.00 1235.21h3.47v3.47h-3.47zM828.47 1231.74h3.47v3.47h-3.47zM831.94 1228.27h6.93v3.47h-6.93zM838.87 1224.80h3.47v3.47h-3.47zM842.34 1221.33h3.47v3.47h-3.47zM845.80 1217.86h6.93v3.47h-6.93zM852.73 1214.39h3.47v3.47h-3.47zM856.20 1210.93h6.93v3.47h-6.93zM863.13 1207.46h3.47v3.47h-3.47zM866.60 1203.99h3.47v3.47h-3.47zM870.07 1200.52h6.93v3.47h-6.93zM877.00 1197.05h3.47v3.47h-3.47zM880.47 1193.58h6.93v3.47h-6.93zM887.40 1190.11h3.47v3.47h-3.47zM890.86 1186.64h3.47v3.47h-3.47zM894.33 1183.17h6.93v3.47h-6.93zM901.26 1179.70h3.47v3.47h-3.47zM904.73 1176.23h3.47v3.47h-3.47zM908.20 1172.76h6.93v3.47h-6.93zM915.13 1169.29h3.47v3.47h-3.47zM918.60 1165.82h6.93v3.47h-6.93zM925.53 1162.35h3.47v3.47h-3.47zM929.00 1158.88h3.47v3.47h-3.47zM932.46 1155.41h6.93v3.47h-6.93zM939.39 1151.94h3.47v3.47h-3.47zM942.86 1148.47h3.47v3.47h-3.47zM946.33 1145.00h6.93v3.47h-6.93zM953.26 1141.53h3.47v3.47h-3.47zM956.73 1138.06h6.93v3.47h-6.93zM963.66 1134.59h3.47v3.47h-3.47zM967.13 1131.12h3.47v3.47h-3.47zM970.59 1127.65h6.93v3.47h-6.93zM977.52 1124.18h3.47v3.47h-3.47zM980.99 1120.71h3.47v3.47h-3.47zM984.46 1117.24h6.93v3.47h-6.93zM991.39 1113.77h3.47v3.47h-3.47zM994.86 1110.30h6.93v3.47h-6.93zM1001.79 1106.83h3.47v3.47h-3.47zM1005.26 1103.36h3.47v3.47h-3.47zM1008.72 1099.89h6.93v3.47h-6.93zM1015.66 1096.43h3.47v3.47h-3.47zM1019.12 1092.96h6.93v3.47h-6.93zM1026.05 1089.49h3.47v3.47h-3.47zM1029.52 1086.02h3.47v3.47h-3.47zM1032.99 1082.55h6.93v3.47h-6.93zM1039.92 1079.08h3.47v3.47h-3.47zM1043.39 1075.61h3.47v3.47h-3.47zM1046.85 1072.14h6.93v3.47h-6.93zM1053.79 1068.67h3.47v3.47h-3.47zM1057.25 1065.20h6.93v3.47h-6.93zM1064.18 1061.73h3.47v3.47h-3.47zM1067.65 1058.26h3.47v3.47h-3.47zM1071.12 1054.79h6.93v3.47h-6.93zM1078.05 1051.32h3.47v3.47h-3.47zM1081.52 1047.85h3.47v3.47h-3.47zM1084.98 1044.38h6.93v3.47h-6.93zM1091.92 1040.91h3.47v3.47h-3.47zM1095.38 1037.44h6.93v3.47h-6.93zM1102.32 1033.97h3.47v3.47h-3.47zM1105.78 1030.50h3.47v3.47h-3.47zM1109.25 1027.03h6.93v3.47h-6.93zM1116.18 1023.56h3.47v3.47h-3.47zM1119.65 1020.09h3.47v3.47h-3.47zM1123.11 1016.62h6.93v3.47h-6.93zM1130.05 1013.15h3.47v3.47h-3.47zM1133.51 1009.68h6.93v3.47h-6.93zM1140.45 1006.21h3.47v3.47h-3.47zM1143.91 1002.74h3.47v3.47h-3.47zM1147.38 999.27h6.93v3.47h-6.93zM1154.31 995.80h3.47v3.47h-3.47zM1157.78 992.33h6.93v3.47h-6.93zM1164.71 988.86h3.47v3.47h-3.47zM1168.18 985.39h3.47v3.47h-3.47zM1171.64 981.93h6.93v3.47h-6.93zM1178.58 978.46h3.47v3.47h-3.47zM1182.04 974.99h3.47v3.47h-3.47zM1185.51 971.52h6.93v3.47h-6.93zM1192.44 968.05h3.47v3.47h-3.47zM1195.91 964.58h6.93v3.47h-6.93zM1202.84 961.11h3.47v3.47h-3.47zM1206.31 957.64h3.47v3.47h-3.47zM1209.77 954.17h6.93v3.47h-6.93zM1216.71 950.70h3.47v3.47h-3.47zM1220.17 947.23h3.47v3.47h-3.47zM1223.64 943.76h6.93v3.47h-6.93zM1230.57 940.29h3.47v3.47h-3.47zM1234.04 936.82h6.93v3.47h-6.93zM1240.97 933.35h3.47v3.47h-3.47zM1244.44 929.88h3.47v3.47h-3.47zM1247.90 926.41h6.93v3.47h-6.93zM1254.84 922.94h3.47v3.47h-3.47zM1258.30 919.47h6.93v3.47h-6.93zM1265.24 916.00h3.47v3.47h-3.47zM1268.70 912.53h3.47v3.47h-3.47zM1272.17 909.06h6.93v3.47h-6.93zM1279.10 905.59h3.47v3.47h-3.47zM1282.57 902.12h3.47v3.47h-3.47zM1286.03 898.65h6.93v3.47h-6.93zM1292.97 895.18h3.47v3.47h-3.47zM1296.43 891.71h6.93v3.47h-6.93zM1303.37 888.24h3.47v3.47h-3.47zM1306.83 884.77h3.47v3.47h-3.47zM1310.30 881.30h6.93v3.47h-6.93zM1317.23 877.83h3.47v3.47h-3.47zM1320.70 874.36h3.47v3.47h-3.47zM1324.16 870.89h6.93v3.47h-6.93zM1331.10 867.42h3.47v3.47h-3.47zM1334.56 863.96h6.93v3.47h-6.93zM1341.50 860.49h3.47v3.47h-3.47zM1344.96 857.02h3.47v3.47h-3.47zM1348.43 853.55h6.93v3.47h-6.93zM1355.36 850.08h3.47v3.47h-3.47zM1358.83 846.61h3.47v3.47h-3.47zM1362.30 843.14h6.93v3.47h-6.93zM1369.23 839.67h3.47v3.47h-3.47zM1372.69 836.20h6.93v3.47h-6.93zM1379.63 832.73h3.47v3.47h-3.47zM1383.09 829.26h3.47v3.47h-3.47zM1386.56 825.79h6.93v3.47h-6.93zM1393.49 822.32h3.47v3.47h-3.47zM1396.96 818.85h6.93v3.47h-6.93zM1403.89 815.38h3.47v3.47h-3.47zM1407.36 811.91h3.47v3.47h-3.47zM1410.82 808.44h6.93v3.47h-6.93zM1417.76 804.97h3.47v3.47h-3.47zM1421.22 801.50h3.47v3.47h-3.47zM1424.69 798.03h6.93v3.47h-6.93zM1431.62 794.56h3.47v3.47h-3.47zM1435.09 791.09h6.93v3.47h-6.93zM1442.02 787.62h3.47v3.47h-3.47zM1445.49 784.15h3.47v3.47h-3.47zM1448.96 780.68h6.93v3.47h-6.93zM1455.89 777.21h3.47v3.47h-3.47zM1459.35 773.74h3.47v3.47h-3.47zM1462.82 770.27h6.93v3.47h-6.93zM1469.75 766.80h3.47v3.47h-3.47zM1473.22 763.33h6.93v3.47h-6.93zM1480.15 759.86h3.47v3.47h-3.47zM1483.62 756.39h3.47v3.47h-3.47zM1487.09 752.92h6.93v3.47h-6.93zM1494.02 749.46h3.47v3.47h-3.47zM1497.48 745.99h3.47v3.47h-3.47zM1500.95 742.52h6.93v3.47h-6.93zM1507.88 739.05h3.47v3.47h-3.47zM1511.35 735.58h6.93v3.47h-6.93zM1518.28 732.11h3.47v3.47h-3.47zM1521.75 728.64h3.47v3.47h-3.47zM1525.22 725.17h6.93v3.47h-6.93zM1532.15 721.70h3.47v3.47h-3.47zM1535.62 718.23h6.93v3.47h-6.93zM1542.55 714.76h3.47v3.47h-3.47zM1546.01 711.29h3.47v3.47h-3.47zM1549.48 707.82h6.93v3.47h-6.93zM1556.41 704.35h3.47v3.47h-3.47zM1559.88 700.88h3.47v3.47h-3.47zM1563.35 697.41h6.93v3.47h-6.93zM1570.28 693.94h3.47v3.47h-3.47zM1573.75 690.47h6.93v3.47h-6.93zM1580.68 687.00h3.47v3.47h-3.47zM1584.14 683.53h3.47v3.47h-3.47zM1587.61 680.06h6.93v3.47h-6.93zM1594.54 676.59h3.47v3.47h-3.47zM1598.01 673.12h3.47v3.47h-3.47zM1601.48 669.65h6.93v3.47h-6.93zM1608.41 666.18h3.47v3.47h-3.47zM1611.88 662.71h6.93v3.47h-6.93zM1618.81 659.24h3.47v3.47h-3.47zM1622.28 655.77h3.47v3.47h-3.47zM1625.74 652.30h6.93v3.47h-6.93zM1632.67 648.83h3.47v3.47h-3.47zM1636.14 645.36h6.93v3.47h-6.93zM1643.07 641.89h3.47v3.47h-3.47zM1646.54 638.42h3.47v3.47h-3.47zM1650.01 634.96h6.93v3.47h-6.93zM1656.94 631.49h3.47v3.47h-3.47zM1660.41 628.02h3.47v3.47h-3.47zM1663.87 624.55h6.93v3.47h-6.93zM1670.80 621.08h3.47v3.47h-3.47zM1674.27 617.61h6.93v3.47h-6.93zM1681.20 614.14h3.47v3.47h-3.47zM1684.67 610.67h3.47v3.47h-3.47zM1688.14 607.20h6.93v3.47h-6.93zM1695.07 603.73h3.47v3.47h-3.47zM1698.54 600.26h3.47v3.47h-3.47zM1702.00 596.79h6.93v3.47h-6.93zM1708.94 593.32h3.47v3.47h-3.47zM1712.40 589.85h6.93v3.47h-6.93zM1719.33 586.38h3.47v3.47h-3.47zM1722.80 582.91h3.47v3.47h-3.47zM1726.27 579.44h6.93v3.47h-6.93zM1733.20 575.97h3.47v3.47h-3.47zM1736.67 572.50h3.47v3.47h-3.47zM1740.13 569.03h6.93v3.47h-6.93zM1747.07 565.56h3.47v3.47h-3.47zM1750.53 562.09h6.93v3.47h-6.93zM1757.46 558.62h3.47v3.47h-3.47zM1760.93 555.15h3.47v3.47h-3.47zM1764.40 551.68h6.93v3.47h-6.93zM1771.33 548.21h3.47v3.47h-3.47zM1774.80 544.74h6.93v3.47h-6.93zM1781.73 541.27h3.47v3.47h-3.47zM1785.20 537.80h3.47v3.47h-3.47zM1788.66 534.33h6.93v3.47h-6.93zM1795.60 530.86h3.47v3.47h-3.47zM1799.06 527.39h3.47v3.47h-3.47zM1802.53 523.92h6.93v3.47h-6.93zM1809.46 520.46h3.47v3.47h-3.47zM1812.93 516.99h6.93v3.47h-6.93zM1819.86 513.52h3.47v3.47h-3.47zM1823.33 510.05h3.47v3.47h-3.47zM1826.79 506.58h6.93v3.47h-6.93zM1833.73 503.11h3.47v3.47h-3.47zM1837.19 499.64h3.47v3.47h-3.47zM1840.66 496.17h6.93v3.47h-6.93zM1847.59 492.70h3.47v3.47h-3.47zM1851.06 489.23h6.93v3.47h-6.93zM1857.99 485.76h3.47v3.47h-3.47zM1861.46 482.29h3.47v3.47h-3.47zM1864.92 478.82h6.93v3.47h-6.93zM1871.86 475.35h3.47v3.47h-3.47zM1875.32 471.88h6.93v3.47h-6.93zM1882.26 468.41h3.47v3.47h-3.47zM1885.72 464.94h3.47v3.47h-3.47zM1889.19 461.47h6.93v3.47h-6.93zM1896.12 458.00h3.47v3.47h-3.47zM1899.59 454.53h3.47v3.47h-3.47zM1903.05 451.06h6.93v3.47h-6.93zM1909.99 447.59h3.47v3.47h-3.47zM1913.45 444.12h6.93v3.47h-6.93zM1920.39 440.65h3.47v3.47h-3.47zM1923.85 437.18h3.47v3.47h-3.47zM1927.32 433.71h6.93v3.47h-6.93zM1934.25 430.24h3.47v3.47h-3.47zM1937.72 426.77h3.47v3.47h-3.47zM1941.18 423.30h6.93v3.47h-6.93zM1948.12 419.83h3.47v3.47h-3.47zM1951.58 416.36h6.93v3.47h-6.93zM1958.52 412.89h3.47v3.47h-3.47z" fill="#000000"/>
</g>
<g>
<rect x="282" y="273" width="153" height="4.2" fill="#ff0000"/>
<rect x="282" y="440.4" width="153" height="4.2" fill="#00ff00"/>
<rect x="282" y="611.9" width="153" height="4.2" fill="#0000ff"/>
<rect x="282" y="779.8" width="153" height="4.2" fill="#ff8000"/>
<rect x="869.5" y="1529.5" width="154.6" height="3.3" fill="#000000"/>
</g>
<g fill="#000">
<rect x="249" y="112" width="4" height="1550"/>
<rect x="1955" y="112" width="4" height="1550"/>
<rect x="232" y="112" width="1727" height="4"/>
<rect x="232" y="1637" width="1727" height="3"/>
<rect x="232" y="1255.1" width="19" height="3"/>
<rect x="232" y="873.1" width="19" height="3"/>
<rect x="232" y="491.1" width="19" height="3"/>
<rect x="242" y="1446.0" width="9" height="3"/>
<rect x="242" y="1064.1" width="9" height="3"/>
<rect x="242" y="682.1" width="9" height="3"/>
<rect x="242" y="301.8" width="9" height="3"/>
<rect x="1937.5" y="1255.1" width="19" height="3"/>
<rect x="1937.5" y="873.1" width="19" height="3"/>
<rect x="1937.5" y="491.1" width="19" height="3"/>
<rect x="1948" y="1446.0" width="9" height="3"/>
<rect x="1948" y="1064.1" width="9" height="3"/>
<rect x="1948" y="682.1" width="9" height="3"/>
<rect x="1948" y="301.8" width="9" height="3"/>
<rect x="678.0" y="1638" width="3" height="24"/>
<rect x="1106.0" y="1638" width="3" height="24"/>
<rect x="1531.0" y="1638" width="3" height="24"/>
<rect x="463.8" y="1638" width="3" height="9"/>
<rect x="892.0" y="1638" width="3" height="9"/>
<rect x="1318.5" y="1638" width="3" height="9"/>
<rect x="1743.2" y="1638" width="3" height="9"/>
<rect x="678.0" y="114" width="3" height="20"/>
<rect x="1106.0" y="114" width="3" height="20"/>
<rect x="1531.0" y="114" width="3" height="20"/>
<rect x="463.8" y="114" width="3" height="9"/>
<rect x="892.0" y="114" width="3" height="9"/>
<rect x="1318.5" y="114" width="3" height="9"/>
<rect x="1743.2" y="114" width="3" height="9"/>
</g>
<text id="yl20" fill="#000000" font-size="62.0" textLength="88.36" lengthAdjust="spacing" transform="scale(0.92,1)" x="141.30" y="127.00" xml:space="preserve">2.0</text>
<text id="yl15" fill="#000000" font-size="62.0" textLength="86.19" lengthAdjust="spacing" transform="scale(0.92,1)" x="143.48" y="508.80" xml:space="preserve">1.5</text>
<text id="yl10" fill="#000000" font-size="62.0" textLength="86.19" lengthAdjust="spacing" transform="scale(0.92,1)" x="143.48" y="890.70" xml:space="preserve">1.0</text>
<text id="yl05" fill="#000000" font-size="62.0" textLength="87.28" lengthAdjust="spacing" transform="scale(0.92,1)" x="142.39" y="1272.90" xml:space="preserve">0.5</text>
<text id="yl00" fill="#000000" font-size="62.0" textLength="87.28" lengthAdjust="spacing" transform="scale(0.92,1)" x="142.39" y="1651.00" xml:space="preserve">0.0</text>
<text id="xl00" fill="#000000" font-size="62.0" textLength="87.28" lengthAdjust="spacing" transform="scale(0.92,1)" x="231.52" y="1723.00" xml:space="preserve">0.0</text>
<text id="xl05" fill="#000000" font-size="62.0" textLength="87.28" lengthAdjust="spacing" transform="scale(0.92,1)" x="693.48" y="1722.80" xml:space="preserve">0.5</text>
<text id="xl10" fill="#000000" font-size="62.0" textLength="86.19" lengthAdjust="spacing" transform="scale(0.92,1)" x="1159.78" y="1722.90" xml:space="preserve">1.0</text>
<text id="xl15" fill="#000000" font-size="62.0" textLength="86.19" lengthAdjust="spacing" transform="scale(0.92,1)" x="1621.74" y="1722.90" xml:space="preserve">1.5</text>
<text id="xl20" fill="#000000" font-size="62.0" textLength="89.45" lengthAdjust="spacing" transform="scale(0.92,1)" x="2083.70" y="1722.80" xml:space="preserve">2.0</text>
<text id="xt" fill="#000000" font-size="72.5" textLength="702.75" lengthAdjust="spacing" transform="scale(0.92,1)" x="846.74" y="1826.00" xml:space="preserve">AOD_AERO (550nm)</text>
<text id="yt" fill="#000000" font-size="72.5" textLength="722.66" lengthAdjust="spacing" transform="translate(107.00,1205.00) rotate(-90) scale(0.92,1)" x="0" y="0">AOD_WORT (550nm)</text>
<text id="l1a" fill="#ff0000" font-size="72.5" textLength="461.02" lengthAdjust="spacing" transform="scale(0.92,1)" x="526.09" y="211.80" xml:space="preserve">Beijing-CAMS</text>
<text id="l1b" fill="#ff0000" font-size="72.5" textLength="115.00" lengthAdjust="spacing" transform="scale(0.92,1)" x="1003.26" y="211.80" xml:space="preserve">site</text>
<text id="l2a" fill="#ff0000" font-size="72.5" textLength="421.73" lengthAdjust="spacing" transform="scale(0.92,1)" x="534.78" y="297.50" xml:space="preserve">y=0.78x-0.02</text>
<text id="l2b" fill="#ff0000" font-size="72.5" textLength="171.53" lengthAdjust="spacing" transform="scale(0.92,1)" x="971.74" y="297.50" xml:space="preserve">N=21</text>
<text id="l2c" fill="#ff0000" font-size="72.5" textLength="241.78" lengthAdjust="spacing" transform="scale(0.92,1)" x="1169.57" y="297.50" xml:space="preserve">R=0.94</text>
<text id="l3a" fill="#00ff00" font-size="72.5" textLength="220.89" lengthAdjust="spacing" transform="scale(0.92,1)" x="507.61" y="379.80" xml:space="preserve">Beijing</text>
<text id="l3b" fill="#00ff00" font-size="72.5" textLength="122.59" lengthAdjust="spacing" transform="scale(0.92,1)" x="745.65" y="379.80" xml:space="preserve">and</text>
<text id="l3c" fill="#00ff00" font-size="72.5" textLength="423.68" lengthAdjust="spacing" transform="scale(0.92,1)" x="885.87" y="379.80" xml:space="preserve">Beijing-RADI</text>
<text id="l3d" fill="#00ff00" font-size="72.5" textLength="158.86" lengthAdjust="spacing" transform="scale(0.92,1)" x="1325.00" y="379.80" xml:space="preserve">sites</text>
<text id="l4a" fill="#00ff00" font-size="72.5" textLength="255.93" lengthAdjust="spacing" transform="scale(0.92,1)" x="511.96" y="465.70" xml:space="preserve">y=0.83x</text>
<text id="l4b" fill="#00ff00" font-size="72.5" textLength="99.04" lengthAdjust="spacing" transform="scale(0.92,1)" x="847.83" y="465.70" xml:space="preserve">N=</text>
<text id="l4c" fill="#00ff00" font-size="72.5" textLength="48.60" lengthAdjust="spacing" transform="scale(1.0,1)" x="886.00" y="465.70" xml:space="preserve">8</text>
<text id="l4d" fill="#00ff00" font-size="72.5" textLength="239.06" lengthAdjust="spacing" transform="scale(0.92,1)" x="1045.65" y="465.70" xml:space="preserve">R=0.95</text>
<text id="l5a" fill="#0000ff" font-size="72.5" textLength="283.53" lengthAdjust="spacing" transform="scale(0.92,1)" x="527.17" y="550.70" xml:space="preserve">XiangHe</text>
<text id="l5b" fill="#0000ff" font-size="72.5" textLength="116.63" lengthAdjust="spacing" transform="scale(0.92,1)" x="827.17" y="550.70" xml:space="preserve">site</text>
<text id="l6a" fill="#0000ff" font-size="72.5" textLength="441.00" lengthAdjust="spacing" transform="scale(0.92,1)" x="513.04" y="633.50" xml:space="preserve">y=0.69x+0.03</text>
<text id="l6b" fill="#0000ff" font-size="72.5" textLength="181.31" lengthAdjust="spacing" transform="scale(0.92,1)" x="991.30" y="633.50" xml:space="preserve">N=19</text>
<text id="l6c" fill="#0000ff" font-size="72.5" textLength="235.80" lengthAdjust="spacing" transform="scale(0.92,1)" x="1189.13" y="633.50" xml:space="preserve">R=0.98</text>
<text id="l7a" fill="#ff8000" font-size="72.5" textLength="395.19" lengthAdjust="spacing" transform="scale(0.92,1)" x="525.00" y="718.70" xml:space="preserve">Beijing-PKU</text>
<text id="l7b" fill="#ff8000" font-size="72.5" textLength="115.54" lengthAdjust="spacing" transform="scale(0.92,1)" x="941.30" y="718.70" xml:space="preserve">site</text>
<text id="l8a" fill="#ff8000" font-size="72.5" textLength="420.64" lengthAdjust="spacing" transform="scale(0.92,1)" x="511.96" y="805.00" xml:space="preserve">y=0.95x-0.08</text>
<text id="l8b" fill="#ff8000" font-size="72.5" textLength="179.14" lengthAdjust="spacing" transform="scale(0.92,1)" x="970.65" y="805.00" xml:space="preserve">N=18</text>
<text id="l8c" fill="#ff8000" font-size="72.5" textLength="241.78" lengthAdjust="spacing" transform="scale(0.92,1)" x="1166.30" y="805.00" xml:space="preserve">R=0.93</text>
<text id="l9a" fill="#000000" font-size="72.5" textLength="85.47" lengthAdjust="spacing" transform="scale(0.92,1)" x="1145.65" y="1465.10" xml:space="preserve">All</text>
<text id="l9b" fill="#000000" font-size="72.5" textLength="151.25" lengthAdjust="spacing" transform="scale(0.92,1)" x="1247.83" y="1465.10" xml:space="preserve">sites</text>
<text id="l9c" fill="#000000" font-size="72.5" textLength="212.83" lengthAdjust="spacing" transform="scale(0.92,1)" x="1419.57" y="1465.10" xml:space="preserve">(2019)</text>
<text id="l10a" fill="#000000" font-size="72.5" textLength="427.71" lengthAdjust="spacing" transform="scale(0.92,1)" x="1132.61" y="1550.50" xml:space="preserve">y=0.81x-0.02</text>
<text id="l10b" fill="#000000" font-size="72.5" textLength="182.40" lengthAdjust="spacing" transform="scale(0.92,1)" x="1571.74" y="1550.50" xml:space="preserve">N=66</text>
<text id="l10c" fill="#000000" font-size="72.5" textLength="243.95" lengthAdjust="spacing" transform="scale(0.92,1)" x="1769.57" y="1550.50" xml:space="preserve">R=0.94</text>
</svg></body></html>
